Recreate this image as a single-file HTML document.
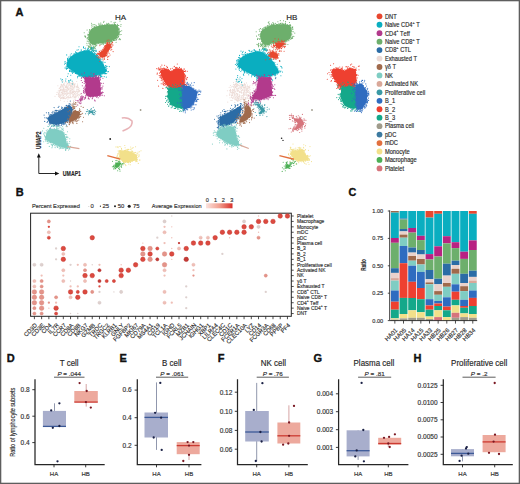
<!DOCTYPE html>
<html><head><meta charset="utf-8"><style>
html,body{margin:0;padding:0;background:#fff;}
svg{display:block;}
text{font-family:"Liberation Sans", sans-serif;stroke:#333;stroke-width:0.16px;}
</style></head><body>
<svg width="520" height="484" viewBox="0 0 520 484">
<rect width="520" height="484" fill="#fff"/>
<rect x="0.65" y="0.65" width="518.7" height="482.7" fill="none" stroke="#5e5e5e" stroke-width="1.3"/>
<text x="15.5" y="15.7" font-size="11" font-weight="bold" fill="#111" style="stroke:#111;stroke-width:0.35px">A</text>
<path d="M93.7,27.3 L89.4,31.3 L88.2,36.5 L88.7,40.5 L90.4,43.5 L93.6,44.8 L97.6,43.5 L97.7,43.5 L97.7,43.5 L103.1,42.9 L108.5,42.2 L112.4,40.8 L116.7,38.5 L118.4,35.1 L118.8,29.8 L117.8,25.9 L115.4,24.6 L108.5,24.6 L100.4,25.3 Z" fill="#6daf6c"/>
<path d="M104.0,21.3h0M111.1,21.7h0M120.0,21.1h0M103.6,22.2h0M114.1,22.4h0M115.6,22.2h0M91.6,23.2h0M98.9,23.3h0M100.8,23.1h0M106.8,23.3h0M108.7,23.4h0M114.3,23.3h0M93.1,24.5h0M94.8,24.5h0M98.7,24.8h0M100.4,24.8h0M102.0,24.2h0M104.7,24.7h0M106.3,24.6h0M107.4,24.4h0M107.6,24.4h0M108.8,24.1h0M109.8,24.7h0M111.2,24.7h0M112.8,24.3h0M114.4,24.5h0M114.9,24.2h0M115.6,24.7h0M117.4,24.2h0M121.0,24.6h0M91.7,25.1h0M96.0,25.3h0M99.3,25.1h0M99.8,25.3h0M102.3,25.0h0M115.7,25.2h0M117.2,25.1h0M118.0,25.5h0M118.8,25.5h0M93.0,26.1h0M94.7,26.3h0M96.4,26.1h0M120.8,26.2h0M91.8,27.0h0M94.8,27.0h0M118.0,27.2h0M92.3,28.8h0M92.7,28.6h0M118.2,28.8h0M119.1,28.6h0M89.6,29.5h0M91.2,29.6h0M91.6,29.4h0M118.4,29.5h0M119.2,29.3h0M87.1,30.0h0M89.7,30.5h0M119.2,30.2h0M121.7,30.7h0M118.9,31.6h0M120.2,31.4h0M84.2,32.8h0M89.0,32.0h0M118.4,32.7h0M118.9,32.1h0M119.6,32.1h0M118.4,33.4h0M119.3,33.3h0M87.8,34.3h0M88.6,34.6h0M118.3,34.4h0M119.1,34.7h0M119.9,34.8h0M121.1,34.5h0M85.0,35.8h0M88.0,35.6h0M118.4,35.0h0M84.7,36.1h0M85.6,36.6h0M118.4,36.7h0M118.6,36.2h0M85.4,37.3h0M87.2,37.8h0M88.1,37.6h0M117.4,37.8h0M118.1,37.3h0M87.1,38.8h0M117.0,38.2h0M119.4,38.8h0M119.8,38.8h0M88.2,39.1h0M88.6,39.5h0M115.8,39.7h0M116.6,39.6h0M119.0,39.6h0M120.3,39.6h0M113.4,40.4h0M114.0,40.4h0M114.7,40.1h0M115.9,40.2h0M87.2,41.1h0M88.3,41.3h0M110.3,41.7h0M110.9,41.1h0M111.7,41.5h0M112.6,41.8h0M103.8,42.5h0M105.4,42.5h0M107.2,42.0h0M109.1,42.7h0M109.6,42.6h0M111.2,42.3h0M116.1,42.2h0M86.9,43.3h0M88.8,43.1h0M89.8,43.0h0M97.7,43.8h0M98.8,43.4h0M101.1,43.3h0M102.7,43.4h0M103.8,43.6h0M105.1,43.5h0M105.9,43.0h0M107.6,43.5h0M109.0,43.2h0M109.8,43.2h0M90.4,44.6h0M92.3,44.2h0M94.2,44.6h0M95.1,44.4h0M96.2,44.3h0M100.1,44.4h0M101.7,44.2h0M103.2,44.6h0M110.9,44.1h0M93.0,45.1h0M95.6,45.0h0M96.7,45.6h0M107.1,45.7h0M88.8,46.3h0M93.4,46.7h0M95.2,46.7h0M106.3,46.8h0M108.3,46.7h0M94.8,47.1h0M88.4,48.1h0M91.2,48.0h0" stroke="#6daf6c" stroke-width="1.1" stroke-linecap="round" fill="none"/>
<path d="M76.5,52.9 L71.7,55.8 L68.9,58.6 L66.5,63.3 L67.0,67.1 L70.8,69.8 L76.5,73.7 L81.3,76.6 L88.0,77.5 L94.6,77.1 L99.4,74.6 L99.4,74.6 L99.4,74.6 L104.2,73.2 L106.9,71.4 L105.1,67.3 L102.2,62.4 L98.4,57.6 L94.6,53.9 L89.8,51.0 L84.1,50.5 Z" fill="#0aaec0"/>
<path d="M79.0,46.7h0M83.6,46.7h0M83.5,47.4h0M91.3,47.2h0M84.1,48.5h0M85.6,48.1h0M87.9,48.3h0M78.3,49.7h0M87.6,49.6h0M88.3,48.9h0M90.3,49.2h0M77.0,50.1h0M81.2,49.9h0M84.3,50.6h0M85.6,50.1h0M86.5,50.3h0M87.5,50.5h0M88.2,50.7h0M89.1,50.4h0M92.1,50.1h0M94.2,50.6h0M80.1,51.7h0M81.3,51.0h0M83.3,51.2h0M88.0,51.1h0M91.5,51.5h0M93.5,51.4h0M95.7,51.1h0M75.5,51.9h0M76.7,52.6h0M80.1,52.0h0M90.9,51.9h0M92.1,52.2h0M94.6,52.3h0M71.3,53.7h0M74.5,53.7h0M75.9,53.1h0M92.5,53.0h0M93.1,53.2h0M94.3,53.5h0M95.9,53.6h0M73.3,54.1h0M74.6,54.0h0M95.0,54.0h0M96.4,54.7h0M66.7,54.9h0M70.3,55.0h0M96.7,55.4h0M97.5,55.2h0M70.2,56.5h0M97.3,56.0h0M98.3,56.3h0M68.7,57.0h0M70.3,57.7h0M98.2,57.6h0M67.6,58.4h0M99.3,57.9h0M67.7,59.3h0M68.4,59.0h0M99.1,59.1h0M100.0,59.5h0M102.0,59.1h0M67.5,60.0h0M68.0,60.2h0M100.9,60.1h0M65.1,61.6h0M67.7,60.9h0M101.4,61.7h0M102.2,61.7h0M64.9,62.0h0M67.1,62.6h0M102.1,62.7h0M103.2,62.0h0M105.0,62.4h0M65.5,63.2h0M103.0,63.3h0M64.5,64.1h0M103.1,64.4h0M66.7,65.0h0M103.6,65.4h0M105.7,65.5h0M66.2,66.6h0M105.3,66.0h0M106.6,66.2h0M107.0,66.4h0M109.3,66.6h0M67.0,67.3h0M105.1,67.3h0M106.0,67.5h0M65.1,67.9h0M66.3,68.6h0M67.2,68.5h0M68.0,68.3h0M69.7,68.7h0M106.9,68.6h0M66.4,69.3h0M71.1,69.6h0M106.5,69.7h0M69.6,70.4h0M70.1,70.3h0M71.4,70.3h0M72.4,70.7h0M106.4,70.6h0M69.5,71.4h0M70.6,71.3h0M71.6,71.6h0M72.7,71.6h0M73.9,71.5h0M107.7,71.7h0M108.4,71.6h0M72.2,72.6h0M73.5,72.3h0M74.9,72.7h0M68.2,73.7h0M72.5,73.3h0M75.5,73.4h0M76.5,73.5h0M102.5,73.5h0M103.7,73.6h0M104.3,73.1h0M105.6,73.4h0M106.7,73.6h0M77.1,74.3h0M99.5,74.3h0M100.0,74.3h0M101.0,74.6h0M102.1,74.1h0M105.0,73.9h0M78.6,75.1h0M79.5,75.6h0M98.7,75.7h0M99.4,74.9h0M100.4,75.4h0M67.5,76.3h0M77.5,76.2h0M79.0,76.4h0M80.7,76.1h0M82.4,76.5h0M96.6,75.9h0M100.6,76.2h0M101.4,76.1h0M102.0,76.2h0M104.2,76.6h0M77.5,77.7h0M81.5,77.2h0M83.5,77.1h0M84.3,77.6h0M85.6,77.5h0M86.4,77.6h0M88.7,77.5h0M91.9,77.0h0M93.4,77.1h0M95.6,77.4h0M96.1,77.4h0M98.6,76.9h0M101.0,77.0h0M106.3,77.1h0M85.0,78.6h0M86.3,78.4h0M87.7,78.2h0M88.2,78.4h0M91.6,78.6h0M93.2,77.9h0M85.6,79.6h0M87.6,79.3h0M89.6,80.4h0M97.1,81.7h0" stroke="#0aaec0" stroke-width="1.1" stroke-linecap="round" fill="none"/>
<path d="M107.8,43.2 L106.0,44.6 L104.8,47.4 L104.8,47.4 L104.8,47.4 L104.8,47.4 L102.7,50.1 L102.6,50.1 L102.6,50.2 L100.2,52.1 L99.0,54.0 L99.4,56.4 L101.5,57.6 L104.5,57.3 L106.4,55.4 L107.3,52.6 L107.3,52.6 L107.3,52.6 L107.3,52.6 L109.1,49.9 L110.8,47.3 L110.4,44.4 Z" fill="#e8472f"/>
<path d="M107.2,40.2h0M108.9,40.0h0M106.8,42.0h0M107.6,42.2h0M109.6,42.0h0M112.6,42.4h0M107.1,43.3h0M108.2,42.6h0M111.8,43.4h0M106.7,43.6h0M107.5,43.7h0M109.6,43.8h0M110.5,44.2h0M105.6,45.3h0M110.1,44.7h0M110.6,45.3h0M111.9,44.6h0M113.0,45.0h0M99.9,45.6h0M104.8,45.7h0M105.4,46.1h0M110.7,46.4h0M112.0,46.1h0M104.2,47.2h0M104.7,46.6h0M110.8,47.2h0M111.6,47.3h0M103.9,47.7h0M110.7,48.0h0M102.6,49.2h0M104.1,48.6h0M109.4,49.1h0M111.8,49.2h0M101.1,50.3h0M108.6,50.3h0M110.9,50.1h0M99.2,51.2h0M101.9,51.2h0M99.6,51.8h0M107.8,52.2h0M108.5,51.8h0M113.1,51.6h0M98.0,53.1h0M99.1,53.3h0M99.9,53.0h0M109.1,53.2h0M97.2,54.2h0M97.7,53.6h0M98.7,53.7h0M107.2,54.1h0M107.4,53.8h0M96.7,54.6h0M98.5,54.8h0M110.0,55.0h0M104.9,56.4h0M106.0,55.6h0M106.8,55.6h0M108.0,56.3h0M108.8,56.3h0M97.0,56.9h0M98.4,56.7h0M100.5,57.0h0M102.2,57.2h0M104.9,56.6h0M107.7,57.2h0M98.7,58.0h0M99.4,57.8h0M103.0,58.0h0M104.4,58.1h0M100.5,58.8h0M104.5,59.3h0M107.7,59.4h0M103.1,59.9h0M99.7,61.3h0" stroke="#e8472f" stroke-width="1.1" stroke-linecap="round" fill="none"/>
<path d="M85.0,77.7 L84.5,79.8 L85.9,84.5 L85.9,84.6 L85.9,84.6 L85.9,84.6 L85.9,84.6 L85.0,90.3 L85.9,95.1 L89.6,96.9 L95.3,96.4 L100.1,95.4 L100.9,93.2 L100.4,83.6 L99.0,77.1 Z" fill="#b23a8c"/>
<path d="M84.4,72.9h0M91.1,73.0h0M81.9,74.0h0M93.3,73.8h0M94.3,73.8h0M93.7,74.7h0M88.7,76.0h0M91.1,75.7h0M94.2,76.0h0M95.5,75.6h0M96.4,76.1h0M96.9,76.1h0M98.7,76.1h0M99.2,75.5h0M83.4,77.1h0M85.5,76.6h0M87.6,77.2h0M89.7,76.5h0M90.0,77.2h0M92.3,77.2h0M93.5,76.7h0M95.5,76.9h0M98.3,77.2h0M99.7,77.2h0M81.4,78.3h0M83.0,77.5h0M84.0,77.9h0M85.3,77.5h0M86.1,77.5h0M87.0,77.8h0M88.3,77.6h0M89.6,77.7h0M90.7,77.5h0M92.7,77.6h0M100.5,77.8h0M102.9,78.3h0M84.5,78.6h0M84.9,78.9h0M99.7,78.7h0M100.3,79.3h0M100.3,80.0h0M81.3,80.5h0M84.3,81.1h0M99.5,80.9h0M85.0,81.9h0M82.4,82.5h0M85.5,82.7h0M100.2,82.7h0M101.4,83.3h0M103.3,83.2h0M84.2,83.5h0M100.1,83.8h0M85.6,84.8h0M86.0,84.9h0M100.7,85.1h0M82.3,85.8h0M85.4,85.7h0M102.9,86.1h0M84.3,87.1h0M86.0,86.6h0M83.7,88.3h0M100.4,88.1h0M101.5,87.8h0M102.2,87.7h0M84.7,89.1h0M85.5,88.9h0M100.5,88.8h0M101.0,89.0h0M102.1,89.0h0M83.7,90.3h0M85.0,89.7h0M100.4,89.8h0M83.4,91.1h0M85.2,90.8h0M84.3,91.8h0M85.3,92.1h0M101.2,92.2h0M102.5,92.0h0M83.6,92.5h0M84.2,93.2h0M100.7,93.3h0M101.7,92.8h0M103.1,92.5h0M81.2,93.5h0M100.2,94.1h0M101.1,93.5h0M102.0,93.7h0M99.1,95.3h0M100.2,94.5h0M101.0,95.0h0M102.3,95.2h0M85.6,95.9h0M86.0,95.8h0M87.2,95.7h0M95.3,96.3h0M97.0,96.0h0M98.2,95.5h0M99.5,96.1h0M100.6,95.8h0M104.3,95.7h0M83.2,96.6h0M85.3,97.2h0M88.3,96.7h0M90.7,96.9h0M92.6,96.7h0M93.5,96.6h0M96.5,97.1h0M97.3,96.6h0M85.5,98.1h0M88.6,98.0h0M92.4,98.0h0M98.2,97.8h0M88.2,98.7h0M89.3,99.0h0M92.2,98.8h0M94.6,100.0h0M95.1,100.9h0" stroke="#b23a8c" stroke-width="1.1" stroke-linecap="round" fill="none"/>
<path d="M62.0,81.4h0M63.2,81.0h0M76.7,81.5h0M66.6,81.9h0M72.9,82.2h0M64.0,83.2h0M64.9,82.8h0M67.6,83.4h0M67.9,83.4h0M69.2,83.3h0M70.1,82.8h0M71.5,83.5h0M72.1,83.1h0M73.3,83.1h0M61.5,84.2h0M63.4,84.2h0M63.9,84.4h0M67.1,83.9h0M69.4,84.1h0M70.7,83.9h0M71.0,83.9h0M72.3,83.9h0M73.5,83.9h0M74.3,84.0h0M75.2,83.8h0M77.4,84.1h0M61.0,84.8h0M62.1,85.0h0M63.3,84.7h0M64.3,84.7h0M66.6,85.1h0M68.1,84.8h0M69.3,85.1h0M70.3,85.2h0M72.1,85.0h0M73.6,85.0h0M74.3,84.8h0M74.9,85.0h0M77.3,85.5h0M57.9,85.7h0M60.7,86.2h0M61.2,86.0h0M61.9,85.8h0M63.0,85.9h0M64.4,85.8h0M65.5,86.1h0M66.6,86.1h0M66.9,86.3h0M68.1,85.7h0M70.6,85.9h0M71.6,85.9h0M72.7,86.1h0M74.5,85.9h0M74.9,86.5h0M76.6,86.5h0M77.7,85.9h0M60.5,86.7h0M61.0,87.2h0M62.2,86.7h0M63.4,87.0h0M65.2,87.3h0M66.1,86.9h0M67.6,87.5h0M68.1,86.7h0M70.4,86.8h0M71.0,86.9h0M72.3,86.8h0M73.7,87.2h0M74.1,86.9h0M76.4,86.7h0M77.6,86.8h0M78.4,87.3h0M59.6,88.1h0M60.2,87.7h0M63.0,87.7h0M63.9,88.3h0M65.7,87.7h0M66.6,87.8h0M67.7,88.4h0M68.0,88.2h0M69.2,87.8h0M70.9,88.0h0M72.3,87.8h0M73.7,88.2h0M74.4,87.8h0M76.2,87.8h0M77.6,87.8h0M78.3,87.8h0M59.1,88.7h0M60.5,89.4h0M61.2,89.0h0M62.1,89.5h0M63.2,89.1h0M64.1,89.0h0M65.7,89.5h0M67.0,89.1h0M68.3,89.1h0M69.0,89.1h0M70.1,88.7h0M71.2,88.7h0M72.0,89.1h0M72.9,89.1h0M76.9,89.5h0M78.3,89.4h0M79.3,88.7h0M59.6,90.5h0M60.7,89.9h0M61.0,90.2h0M62.7,90.2h0M63.7,89.8h0M64.4,89.7h0M65.0,90.5h0M66.4,90.1h0M67.7,90.2h0M68.1,89.8h0M68.9,89.8h0M70.2,90.3h0M71.0,90.1h0M72.1,89.8h0M73.2,90.0h0M74.1,90.0h0M76.7,89.9h0M77.3,89.8h0M78.6,90.3h0M79.6,90.5h0M58.3,90.8h0M59.3,91.5h0M60.2,90.7h0M61.2,90.8h0M62.4,91.0h0M63.4,90.7h0M64.3,91.2h0M65.1,91.0h0M66.2,91.1h0M67.4,91.1h0M69.7,91.3h0M70.1,91.3h0M71.1,90.8h0M72.5,91.3h0M73.0,91.2h0M74.6,91.5h0M75.1,91.2h0M76.2,91.2h0M77.7,91.3h0M78.3,91.5h0M79.5,90.9h0M57.1,92.4h0M59.9,92.5h0M61.5,92.4h0M62.7,92.3h0M63.1,91.8h0M64.3,92.1h0M65.3,91.7h0M66.5,91.8h0M67.0,92.4h0M69.1,92.3h0M70.7,92.3h0M71.0,91.7h0M72.7,92.4h0M73.6,91.7h0M75.4,92.5h0M76.4,91.8h0M77.7,92.2h0M78.3,92.0h0M79.0,91.8h0M58.7,93.1h0M58.9,92.9h0M59.9,93.0h0M62.0,93.2h0M62.9,92.9h0M64.2,93.2h0M65.4,93.2h0M67.4,93.1h0M68.3,93.3h0M69.3,93.3h0M70.4,93.0h0M71.4,93.1h0M72.2,92.9h0M73.6,92.8h0M74.3,93.2h0M75.2,92.7h0M77.4,93.2h0M80.3,93.5h0M56.7,94.5h0M58.2,94.0h0M60.1,94.4h0M62.4,94.0h0M63.1,93.7h0M64.1,94.4h0M65.3,94.1h0M66.5,93.8h0M67.0,94.4h0M67.9,93.8h0M70.2,94.0h0M72.1,93.8h0M73.5,94.5h0M74.5,94.1h0M75.1,94.0h0M76.6,93.7h0M78.4,94.2h0M79.9,94.4h0M80.9,94.2h0M58.4,94.9h0M59.3,95.0h0M60.6,95.5h0M61.6,94.9h0M62.1,95.1h0M63.5,95.5h0M64.1,94.7h0M66.3,95.3h0M69.0,95.3h0M70.1,94.8h0M72.7,94.8h0M73.3,95.0h0M75.7,95.1h0M75.9,95.0h0M77.7,94.7h0M77.9,95.5h0M79.5,95.2h0M55.0,96.3h0M58.7,96.4h0M59.5,96.0h0M60.3,96.5h0M62.9,96.3h0M65.0,96.5h0M66.7,95.7h0M68.1,96.5h0M70.5,96.1h0M72.6,96.3h0M73.0,96.4h0M73.9,95.7h0M75.0,96.3h0M77.0,95.9h0M59.4,97.5h0M60.2,96.8h0M61.1,97.2h0M61.9,97.2h0M63.1,97.2h0M64.0,97.3h0M66.7,97.5h0M67.4,97.1h0M68.7,97.5h0M69.0,97.1h0M70.6,97.5h0M70.9,97.1h0M74.6,97.1h0M75.5,97.0h0M76.2,96.9h0M78.5,97.1h0M60.6,98.3h0M61.5,98.3h0M62.7,97.9h0M63.3,98.1h0M63.9,98.4h0M64.9,98.1h0M66.2,98.3h0M68.4,97.8h0M69.1,97.7h0M70.0,97.8h0M72.0,97.7h0M73.9,97.8h0M75.2,97.9h0M60.6,98.8h0M63.0,98.7h0M65.3,98.8h0M67.9,99.1h0M75.1,99.4h0M60.6,100.3h0M73.6,100.2h0M64.2,101.3h0M67.4,101.2h0M73.9,101.5h0M70.4,101.8h0" stroke="#ecdad5" stroke-width="1.1" stroke-linecap="round" fill="none"/>
<path d="M69.6,105.2 L65.7,107.2 L57.6,111.9 L57.6,111.9 L49.5,116.0 L47.6,118.5 L49.5,123.6 L56.2,125.0 L64.1,123.0 L69.4,119.7 L72.1,114.3 L72.8,107.8 Z" fill="#2b6ca6"/>
<path d="M70.3,101.0h0M69.2,103.6h0M70.4,104.1h0M66.2,105.4h0M68.3,105.3h0M69.1,105.0h0M70.1,105.0h0M73.1,104.6h0M59.0,106.3h0M66.8,105.9h0M67.3,106.1h0M69.0,105.6h0M58.2,107.4h0M61.7,107.1h0M65.1,107.1h0M54.1,107.6h0M61.8,108.4h0M62.6,107.7h0M64.4,107.8h0M65.4,107.7h0M72.2,109.4h0M73.1,109.2h0M55.7,110.2h0M56.5,110.2h0M59.0,110.3h0M60.2,109.8h0M53.0,111.3h0M55.0,110.9h0M56.3,110.9h0M57.7,110.6h0M59.2,111.0h0M52.1,112.4h0M54.1,112.3h0M56.3,112.2h0M58.7,111.6h0M73.3,112.1h0M75.2,111.9h0M46.4,112.7h0M48.7,112.6h0M52.2,112.8h0M54.6,112.8h0M55.5,112.8h0M72.7,113.4h0M74.2,113.4h0M75.2,113.3h0M48.7,114.0h0M49.0,114.0h0M51.0,114.2h0M52.8,114.0h0M54.2,113.6h0M71.8,114.2h0M72.7,114.4h0M44.1,115.1h0M50.2,114.9h0M51.5,114.7h0M71.6,115.4h0M73.0,114.8h0M76.1,114.8h0M49.3,115.7h0M50.2,116.1h0M72.0,115.7h0M73.2,115.7h0M74.0,115.9h0M48.2,117.3h0M49.2,117.1h0M71.6,117.2h0M44.8,117.7h0M46.4,117.9h0M47.7,118.2h0M47.7,118.9h0M70.2,119.4h0M72.5,119.0h0M73.0,119.1h0M68.4,120.1h0M69.8,119.7h0M70.6,120.2h0M71.1,120.2h0M44.7,121.4h0M47.6,121.2h0M48.8,120.6h0M66.7,121.4h0M67.4,120.7h0M68.8,121.2h0M71.0,120.9h0M47.1,122.4h0M65.6,122.0h0M66.0,122.0h0M67.5,122.3h0M49.6,122.8h0M61.3,123.4h0M62.7,123.1h0M63.5,123.1h0M65.2,123.1h0M49.1,124.1h0M50.4,123.9h0M58.8,124.2h0M61.6,123.9h0M62.2,124.2h0M64.1,123.7h0M65.0,123.9h0M53.5,124.7h0M54.6,125.4h0M56.1,124.9h0M57.7,125.3h0M58.6,124.6h0M59.0,125.0h0M61.2,125.4h0M63.7,124.6h0M66.6,125.1h0M51.4,126.3h0M53.4,126.1h0M56.4,126.0h0M58.8,126.1h0M59.1,125.8h0M50.6,128.1h0M54.2,129.1h0" stroke="#2b6ca6" stroke-width="1.1" stroke-linecap="round" fill="none"/>
<path d="M73.7,110.6 L71.8,114.5 L71.8,114.5 L69.1,118.6 L69.1,122.3 L72.2,121.6 L77.6,118.4 L80.2,114.4 L78.9,111.2 Z" fill="#a06a4c"/>
<path d="M76.1,106.5h0M81.1,106.3h0M67.7,107.4h0M73.9,107.3h0M83.2,107.4h0M74.1,108.5h0M74.7,108.3h0M79.5,108.7h0M79.9,109.8h0M69.8,110.6h0M72.9,110.1h0M74.9,110.2h0M75.7,110.3h0M79.3,110.5h0M68.1,111.7h0M70.9,111.8h0M73.6,111.7h0M75.1,111.0h0M77.9,111.5h0M79.9,111.2h0M80.8,111.4h0M72.0,112.7h0M72.9,112.1h0M79.2,112.3h0M79.7,112.5h0M70.9,113.5h0M79.5,113.2h0M82.6,113.2h0M71.1,114.3h0M79.8,114.7h0M80.7,114.4h0M81.7,114.0h0M68.9,115.2h0M70.8,115.7h0M71.7,115.1h0M69.3,116.8h0M78.8,116.6h0M79.8,116.8h0M80.7,116.2h0M77.9,117.5h0M78.5,117.8h0M79.6,117.6h0M83.5,117.2h0M76.3,118.7h0M77.9,118.3h0M78.7,118.0h0M67.6,119.1h0M68.8,119.0h0M75.7,119.1h0M76.6,119.8h0M69.2,120.4h0M73.8,120.6h0M75.1,120.0h0M75.5,120.7h0M77.2,120.6h0M78.8,120.1h0M67.1,121.6h0M72.8,121.3h0M74.1,121.0h0M76.2,121.6h0M77.3,121.0h0M82.6,121.7h0M65.7,122.6h0M67.3,122.2h0M69.2,122.4h0M70.2,122.4h0M72.2,122.7h0M72.9,122.4h0M70.0,123.2h0M73.1,123.6h0M76.9,123.4h0M69.0,124.1h0M69.5,124.6h0M67.0,126.6h0" stroke="#a06a4c" stroke-width="1.1" stroke-linecap="round" fill="none"/>
<path d="M49.6,128.8 L47.0,132.8 L44.9,138.0 L48.2,141.2 L56.3,145.2 L62.9,147.5 L68.2,147.9 L69.3,146.1 L66.9,143.5 L66.8,143.5 L66.8,143.5 L66.8,143.5 L66.8,143.5 L66.8,143.5 L66.8,143.4 L65.4,136.8 L62.8,131.5 L57.5,129.5 Z" fill="#7fcdc3"/>
<path d="M59.4,125.8h0M48.4,126.6h0M57.6,126.6h0M56.6,127.7h0M43.8,128.2h0M49.6,128.5h0M51.0,129.0h0M52.9,129.0h0M54.5,129.0h0M56.6,128.8h0M61.7,128.3h0M47.8,129.9h0M49.8,129.3h0M55.0,129.4h0M56.0,129.8h0M57.1,129.6h0M58.9,129.7h0M61.9,129.9h0M62.6,129.6h0M42.6,130.9h0M46.3,130.2h0M48.8,130.2h0M60.8,130.3h0M63.5,130.7h0M47.1,131.6h0M47.5,132.0h0M48.3,131.4h0M62.3,131.7h0M67.5,131.7h0M44.7,132.3h0M45.8,133.0h0M47.1,132.4h0M63.3,132.6h0M64.4,133.0h0M43.9,133.3h0M46.6,133.3h0M63.7,133.5h0M44.0,134.2h0M46.4,134.5h0M64.9,134.6h0M65.6,134.5h0M66.7,134.7h0M44.5,135.6h0M64.4,135.2h0M44.7,136.2h0M45.7,136.3h0M66.1,136.8h0M66.8,136.7h0M67.7,137.0h0M45.3,137.6h0M66.4,137.6h0M67.9,137.8h0M45.7,139.0h0M65.5,138.3h0M69.8,138.7h0M45.1,139.2h0M46.0,139.9h0M46.8,139.6h0M66.8,139.6h0M45.6,141.0h0M47.3,140.5h0M43.7,141.8h0M47.1,141.6h0M47.7,141.3h0M49.1,141.7h0M66.9,141.9h0M67.6,142.0h0M69.7,141.6h0M48.6,143.0h0M50.1,142.4h0M50.9,142.6h0M47.3,143.2h0M51.1,144.0h0M67.0,143.9h0M67.7,143.5h0M69.1,143.5h0M52.0,144.4h0M53.4,144.4h0M55.0,145.0h0M55.8,144.5h0M68.0,144.8h0M52.0,145.3h0M52.6,145.4h0M54.8,145.6h0M56.1,146.0h0M57.1,145.8h0M57.4,146.0h0M49.3,146.4h0M52.4,146.8h0M57.9,146.3h0M59.0,147.0h0M59.6,146.6h0M60.3,146.7h0M70.6,146.4h0M51.9,147.8h0M55.1,147.6h0M57.4,147.4h0M60.6,147.5h0M61.4,147.9h0M62.6,147.9h0M63.3,147.7h0M64.7,147.4h0M65.8,147.6h0M67.1,147.5h0M67.4,148.0h0M68.8,147.5h0M69.4,147.5h0M59.3,148.8h0M60.4,148.2h0M63.1,148.4h0M65.1,148.6h0M66.1,149.0h0M66.4,148.2h0M67.5,148.5h0M69.0,148.5h0M69.8,148.6h0M65.6,149.9h0M68.5,150.0h0M69.8,149.3h0M65.7,150.4h0" stroke="#7fcdc3" stroke-width="1.1" stroke-linecap="round" fill="none"/>
<path d="M88.7,110.7 L89.0,112.4 L92.9,113.3 L93.5,111.6 Z" fill="#3a9aa6"/>
<path d="M93.3,107.2h0M91.3,108.5h0M87.3,109.6h0M90.9,109.4h0M94.5,109.8h0M89.3,110.6h0M91.2,110.7h0M92.8,110.6h0M93.7,110.7h0M94.8,110.2h0M86.4,111.6h0M87.7,111.5h0M88.1,111.1h0M89.5,111.1h0M90.4,111.0h0M91.8,111.5h0M92.3,111.3h0M95.7,111.5h0M88.7,112.8h0M89.2,112.8h0M90.8,112.8h0M93.6,112.8h0M94.6,112.4h0M85.6,113.8h0M88.2,113.2h0M89.6,113.5h0M92.6,113.5h0M95.1,113.8h0M88.5,114.7h0M92.2,114.0h0M93.4,114.4h0M94.2,114.7h0" stroke="#3a9aa6" stroke-width="1.1" stroke-linecap="round" fill="none"/>
<path d="M119.8,150.0 L119.1,156.9 L122.6,161.9 L129.7,161.9 L137.5,159.9 L136.8,155.0 L131.1,151.5 Z" fill="#f2e08a"/>
<path d="M124.8,145.5h0M116.0,146.9h0M117.7,146.9h0M119.2,146.5h0M120.7,146.7h0M130.7,147.0h0M135.6,146.7h0M118.1,147.6h0M125.1,147.7h0M132.2,148.2h0M133.1,147.6h0M121.5,148.4h0M130.1,149.2h0M131.1,149.1h0M121.7,149.6h0M125.1,150.2h0M126.1,149.9h0M126.9,150.0h0M127.7,149.4h0M128.6,149.4h0M118.2,150.9h0M119.7,150.6h0M124.2,150.5h0M125.1,150.4h0M125.7,150.8h0M127.2,150.7h0M127.5,150.7h0M128.7,151.1h0M131.3,151.0h0M132.2,151.1h0M141.0,150.8h0M119.2,151.5h0M119.5,151.9h0M128.5,151.5h0M132.1,151.7h0M132.9,151.9h0M135.1,152.2h0M138.1,152.0h0M139.6,151.7h0M118.8,152.7h0M134.0,152.5h0M135.5,152.6h0M136.9,153.1h0M117.7,153.7h0M118.9,153.6h0M134.5,154.0h0M137.8,153.9h0M117.5,155.1h0M119.0,154.7h0M136.0,154.5h0M136.8,155.2h0M139.1,154.9h0M117.0,156.0h0M137.0,155.6h0M139.0,156.0h0M116.9,157.1h0M117.9,157.1h0M138.7,156.7h0M117.0,158.2h0M118.7,157.6h0M120.0,157.9h0M137.2,157.5h0M119.3,159.2h0M118.2,160.2h0M120.1,159.5h0M121.3,159.7h0M136.6,159.8h0M137.5,159.7h0M139.3,160.1h0M140.0,160.0h0M132.0,161.2h0M132.5,161.0h0M135.8,160.6h0M136.7,160.9h0M120.2,161.5h0M124.5,162.2h0M126.2,161.9h0M130.6,161.7h0M135.8,161.6h0M137.1,161.6h0M123.6,162.4h0M125.3,162.4h0M127.3,162.4h0M128.1,162.5h0M129.0,162.4h0M130.5,162.5h0M116.6,163.9h0M122.2,164.2h0M124.3,163.7h0M128.8,164.1h0M138.3,163.4h0M125.3,164.6h0M130.3,164.8h0M125.9,165.6h0" stroke="#f2e08a" stroke-width="1.1" stroke-linecap="round" fill="none"/>
<path d="M114.1,167.0 L118.0,167.7 L121.5,163.6 L119.6,162.3 L116.1,163.1 Z" fill="#4caf55"/>
<path d="M115.9,160.5h0M117.0,160.2h0M112.5,161.2h0M118.4,161.5h0M119.7,161.1h0M116.1,162.3h0M117.9,162.2h0M119.2,162.1h0M115.8,163.2h0M120.7,163.1h0M122.6,163.5h0M123.8,163.2h0M115.6,164.1h0M121.6,164.3h0M113.8,165.3h0M114.7,165.0h0M121.2,165.5h0M122.9,164.7h0M113.5,166.4h0M121.1,166.4h0M112.4,166.7h0M114.2,167.5h0M116.7,167.2h0M119.7,167.1h0M121.6,167.2h0M113.9,168.1h0M115.2,168.1h0M116.0,167.7h0M118.7,168.4h0M113.9,169.1h0M115.7,168.8h0M119.0,168.8h0M119.7,169.4h0M117.7,170.8h0M120.0,171.1h0" stroke="#4caf55" stroke-width="1.1" stroke-linecap="round" fill="none"/>
<path d="M160.7,70.1 L161.2,75.9 L165.2,82.9 L170.1,88.3 L180.0,88.3 L184.8,85.9 L184.8,74.1 L181.9,68.7 L176.0,68.2 L171.1,71.2 L171.1,71.2 L171.1,71.2 L171.0,71.2 L171.0,71.2 L171.0,71.2 L171.0,71.2 L171.0,71.2 L170.9,71.2 L170.9,71.2 L170.9,71.2 L166.0,68.7 Z" fill="#ee4030"/>
<path d="M177.3,64.0h0M161.9,65.1h0M164.6,65.3h0M166.7,66.3h0M174.4,66.2h0M160.8,66.9h0M167.5,67.4h0M174.1,66.7h0M176.1,67.3h0M179.5,67.4h0M158.7,67.9h0M163.8,68.1h0M164.9,68.4h0M167.2,67.7h0M172.3,68.3h0M175.5,67.9h0M176.6,68.0h0M177.3,67.7h0M179.4,67.6h0M181.1,68.4h0M156.8,68.6h0M158.2,69.1h0M159.4,69.1h0M160.4,68.7h0M161.8,68.6h0M162.9,68.6h0M164.4,69.3h0M166.4,69.1h0M167.8,69.4h0M168.4,69.4h0M170.6,68.9h0M174.2,69.3h0M178.3,68.7h0M183.9,69.1h0M184.5,69.0h0M159.1,70.1h0M160.1,69.7h0M161.2,69.9h0M162.6,69.9h0M167.8,70.0h0M168.3,70.2h0M169.3,70.4h0M173.4,69.9h0M182.5,70.3h0M160.6,71.4h0M170.9,71.3h0M171.2,70.9h0M183.5,70.8h0M184.4,71.4h0M185.6,70.7h0M187.3,71.2h0M160.4,72.4h0M161.1,71.6h0M170.8,71.6h0M183.5,71.9h0M185.1,71.6h0M157.3,73.1h0M159.6,73.1h0M157.1,74.1h0M161.3,73.9h0M184.7,74.3h0M160.4,75.1h0M161.5,75.3h0M185.3,75.2h0M159.2,75.6h0M160.4,76.1h0M185.7,76.0h0M159.9,77.3h0M161.4,77.1h0M184.8,77.1h0M185.3,76.9h0M160.9,77.7h0M186.3,78.0h0M187.5,77.6h0M161.4,78.6h0M162.3,79.2h0M163.2,78.6h0M185.8,78.8h0M157.6,80.2h0M161.3,80.2h0M163.6,79.6h0M184.9,80.1h0M186.7,79.6h0M162.8,80.8h0M163.3,82.1h0M164.4,81.6h0M185.2,82.0h0M163.2,82.7h0M164.4,83.4h0M165.5,83.0h0M161.2,83.8h0M162.9,83.9h0M163.7,84.3h0M165.5,84.2h0M166.1,84.4h0M185.6,84.4h0M187.8,83.7h0M163.7,85.0h0M164.9,85.2h0M166.4,84.6h0M167.4,85.4h0M184.7,84.6h0M186.5,85.0h0M158.6,86.1h0M167.9,86.1h0M184.8,86.2h0M185.2,86.4h0M186.8,85.9h0M166.4,86.8h0M169.1,87.2h0M182.2,87.4h0M183.8,87.4h0M184.8,86.6h0M162.9,88.4h0M168.9,87.7h0M171.1,88.2h0M172.9,88.2h0M173.1,88.3h0M176.3,88.4h0M178.9,88.2h0M179.8,88.4h0M180.4,87.7h0M181.5,87.9h0M182.7,87.7h0M183.8,87.6h0M171.9,88.9h0M174.4,89.1h0M176.4,89.4h0M177.4,89.2h0M181.6,89.4h0M183.8,88.8h0M184.1,89.0h0M168.7,89.6h0M171.7,89.6h0M173.9,89.6h0M176.9,90.3h0M178.3,89.7h0M181.4,89.7h0M176.3,90.9h0M178.2,90.7h0M181.3,91.0h0M167.9,91.7h0" stroke="#ee4030" stroke-width="1.1" stroke-linecap="round" fill="none"/>
<path d="M168.2,88.2 L167.7,96.0 L170.2,103.9 L176.1,107.8 L184.8,108.4 L184.8,90.1 L180.9,87.7 Z" fill="#14a88a"/>
<path d="M172.6,84.7h0M175.6,84.3h0M180.1,84.3h0M169.1,85.9h0M173.1,85.7h0M177.4,85.4h0M181.8,85.5h0M182.4,85.2h0M168.8,86.8h0M174.5,86.7h0M175.9,86.7h0M185.1,86.2h0M188.4,86.7h0M165.9,87.7h0M166.4,87.5h0M167.6,87.7h0M169.8,87.7h0M170.7,87.6h0M171.2,87.4h0M173.3,87.3h0M177.9,87.2h0M178.9,87.7h0M179.2,87.5h0M180.3,87.5h0M181.6,87.8h0M185.3,87.7h0M167.4,88.4h0M168.3,88.2h0M169.4,88.5h0M170.6,88.3h0M171.5,88.3h0M174.9,88.2h0M175.9,88.2h0M181.7,88.3h0M182.1,88.3h0M183.6,88.9h0M167.9,89.4h0M168.1,89.5h0M182.9,89.2h0M183.1,89.5h0M184.6,89.9h0M185.3,89.5h0M184.1,90.1h0M185.9,90.8h0M167.5,91.3h0M187.7,91.6h0M167.3,92.8h0M184.6,92.3h0M185.6,92.8h0M184.7,93.9h0M186.1,93.4h0M186.1,94.6h0M167.3,95.3h0M185.3,95.2h0M165.6,96.2h0M166.7,96.2h0M167.4,96.4h0M168.1,96.7h0M184.8,96.5h0M185.5,96.2h0M167.6,97.8h0M168.5,97.5h0M185.9,97.3h0M187.5,97.5h0M165.5,98.3h0M168.6,98.6h0M167.3,99.9h0M168.8,99.9h0M166.5,100.9h0M184.5,100.8h0M185.9,100.5h0M186.9,100.1h0M168.2,101.9h0M169.6,101.4h0M184.5,101.3h0M185.3,101.8h0M186.5,101.4h0M165.5,102.5h0M168.3,102.4h0M184.9,102.8h0M185.2,102.8h0M169.7,103.9h0M184.8,103.8h0M185.5,103.4h0M186.9,103.1h0M167.5,104.2h0M170.3,104.5h0M171.3,104.2h0M185.7,104.3h0M186.2,104.3h0M188.3,104.9h0M168.9,105.8h0M171.2,105.1h0M172.6,105.8h0M168.6,106.3h0M172.2,106.9h0M184.5,106.5h0M185.3,106.5h0M186.9,106.7h0M171.2,107.7h0M175.9,107.8h0M181.6,107.8h0M184.4,107.9h0M185.5,107.4h0M174.3,108.4h0M175.4,108.4h0M177.6,108.9h0M178.9,108.8h0M180.6,108.1h0M181.4,108.5h0M182.8,108.3h0M183.7,108.6h0M184.8,108.8h0M185.1,108.1h0M178.9,109.1h0M182.7,109.9h0M184.8,109.7h0M180.3,110.8h0M183.4,110.4h0M179.7,111.5h0M181.7,111.3h0" stroke="#14a88a" stroke-width="1.1" stroke-linecap="round" fill="none"/>
<path d="M183.2,85.2 L182.2,92.0 L182.2,104.0 L184.1,109.4 L189.9,107.8 L195.8,99.9 L197.5,92.1 L189.9,86.2 Z" fill="#2f6cc0"/>
<path d="M182.6,81.0h0M187.2,82.2h0M187.3,82.8h0M191.6,83.0h0M194.2,82.6h0M180.6,83.9h0M186.7,83.7h0M187.9,84.2h0M188.9,84.1h0M183.9,85.1h0M184.7,84.7h0M189.0,85.3h0M190.6,84.9h0M193.1,85.3h0M181.1,86.3h0M182.8,86.0h0M189.1,86.2h0M191.0,86.0h0M179.2,87.3h0M182.0,87.0h0M183.0,86.8h0M191.3,87.3h0M178.8,87.6h0M182.0,88.4h0M183.1,88.1h0M192.9,88.1h0M181.6,89.0h0M193.1,89.0h0M193.9,88.9h0M179.0,90.2h0M181.2,90.4h0M182.2,90.3h0M195.1,90.2h0M195.9,89.7h0M199.0,90.1h0M181.0,90.8h0M195.4,90.7h0M196.2,91.3h0M196.6,91.0h0M197.8,91.0h0M199.3,91.4h0M200.8,91.1h0M182.0,92.1h0M197.3,92.3h0M198.1,91.9h0M200.7,92.1h0M182.2,93.1h0M179.7,94.3h0M182.2,93.6h0M197.0,93.7h0M198.8,94.3h0M199.9,94.4h0M196.6,94.8h0M198.4,94.7h0M182.1,95.7h0M196.8,95.8h0M180.9,97.0h0M181.6,97.3h0M196.4,97.0h0M179.9,98.3h0M180.9,97.9h0M181.8,98.1h0M197.1,97.8h0M180.3,98.7h0M182.1,99.0h0M195.9,98.8h0M197.4,99.4h0M198.6,99.2h0M182.1,99.9h0M195.9,99.8h0M196.7,100.4h0M195.9,101.4h0M180.3,102.4h0M182.3,101.9h0M193.7,102.3h0M194.7,101.7h0M196.9,101.6h0M177.6,102.9h0M180.0,103.2h0M181.1,102.6h0M181.6,103.1h0M193.4,103.2h0M193.9,103.1h0M193.2,103.7h0M181.3,104.7h0M181.6,104.8h0M192.4,104.6h0M192.8,105.1h0M193.6,104.6h0M195.0,104.7h0M196.1,104.8h0M181.1,105.9h0M182.2,105.6h0M183.3,106.1h0M191.0,106.0h0M191.6,105.8h0M182.6,106.9h0M190.8,106.9h0M192.0,107.1h0M183.0,107.8h0M183.8,107.8h0M189.2,107.6h0M190.8,108.0h0M194.1,107.6h0M186.3,108.9h0M186.8,109.2h0M194.2,108.8h0M183.3,109.6h0M184.0,110.2h0M184.6,109.6h0M187.2,109.8h0M187.7,109.8h0M191.2,110.0h0M193.1,109.6h0M185.3,110.9h0M183.3,111.8h0M185.3,112.8h0" stroke="#2f6cc0" stroke-width="1.1" stroke-linecap="round" fill="none"/>
<path d="M261.2,31.3 L260.1,35.2 L260.5,39.1 L262.5,43.2 L265.7,45.1 L270.3,43.7 L270.4,43.7 L270.4,43.7 L275.8,43.1 L281.1,42.4 L286.4,41.0 L290.4,38.5 L291.4,33.8 L291.7,28.5 L289.8,25.3 L283.8,23.9 L277.1,24.4 L270.5,25.3 L265.1,28.0 Z" fill="#6daf6c"/>
<path d="M280.3,20.6h0M283.5,20.7h0M269.0,21.7h0M277.9,21.8h0M285.6,21.6h0M268.3,22.6h0M272.9,22.6h0M282.0,23.1h0M289.5,22.5h0M269.0,23.8h0M269.6,24.1h0M271.5,24.0h0M273.3,24.1h0M273.9,23.3h0M275.5,23.3h0M278.8,23.9h0M280.0,23.7h0M280.7,23.4h0M282.3,23.4h0M283.7,23.8h0M285.3,23.4h0M285.5,23.3h0M271.2,25.1h0M272.3,24.9h0M273.0,25.1h0M274.1,24.5h0M276.3,24.5h0M276.7,24.3h0M277.5,24.6h0M279.2,24.6h0M285.5,24.6h0M287.2,24.8h0M287.7,24.8h0M289.9,24.6h0M290.6,25.1h0M267.3,25.9h0M268.1,25.6h0M269.9,25.8h0M289.0,25.5h0M290.1,25.7h0M290.7,25.3h0M265.2,26.9h0M266.9,26.3h0M268.1,26.8h0M291.0,27.0h0M292.7,26.9h0M264.0,27.6h0M265.2,27.7h0M265.6,27.6h0M292.1,27.8h0M292.5,27.4h0M260.5,28.6h0M262.6,28.7h0M263.7,28.7h0M292.8,28.9h0M259.2,29.3h0M262.0,29.3h0M263.2,29.9h0M292.8,29.5h0M259.6,31.1h0M262.6,30.4h0M291.6,30.8h0M256.2,31.7h0M261.2,31.4h0M292.0,31.6h0M293.3,31.8h0M261.0,33.1h0M294.8,33.1h0M260.3,34.1h0M291.7,33.7h0M258.5,34.9h0M260.0,34.4h0M290.9,35.0h0M291.9,34.7h0M256.5,36.1h0M260.0,36.0h0M291.0,35.3h0M260.3,36.6h0M290.7,37.1h0M292.3,36.5h0M293.8,36.4h0M291.2,37.3h0M292.6,37.3h0M257.8,38.3h0M259.1,38.8h0M260.1,38.7h0M289.5,38.7h0M291.2,38.3h0M291.8,38.6h0M292.6,38.3h0M257.5,39.4h0M259.7,39.3h0M287.8,40.1h0M288.8,39.7h0M290.7,39.3h0M285.3,41.0h0M286.1,40.7h0M288.9,40.7h0M261.7,41.4h0M282.3,42.1h0M284.1,41.4h0M284.7,42.0h0M285.6,42.0h0M286.9,41.6h0M260.7,43.0h0M281.5,43.0h0M258.8,43.3h0M262.3,43.7h0M263.2,43.4h0M267.8,44.1h0M268.8,43.8h0M269.8,44.1h0M270.5,43.6h0M273.0,43.3h0M273.5,43.3h0M274.7,43.8h0M275.7,43.3h0M278.0,43.4h0M279.2,43.5h0M279.5,43.7h0M283.6,43.4h0M257.7,44.7h0M260.9,44.6h0M262.2,44.8h0M262.8,44.9h0M264.2,44.5h0M265.2,44.5h0M266.2,45.1h0M267.1,44.3h0M267.6,44.9h0M268.5,44.6h0M269.7,44.7h0M271.6,44.3h0M276.2,45.1h0M278.7,44.6h0M284.5,44.6h0M285.7,44.6h0M287.9,44.5h0M261.5,45.4h0M265.2,45.9h0M265.6,45.6h0M269.1,45.3h0M276.6,45.8h0M265.5,46.3h0M275.3,47.8h0" stroke="#6daf6c" stroke-width="1.1" stroke-linecap="round" fill="none"/>
<path d="M243.7,55.8 L240.0,58.6 L238.0,63.3 L239.0,67.1 L243.7,70.8 L250.4,73.7 L250.4,73.7 L256.2,76.6 L262.8,77.5 L270.4,76.6 L275.2,74.6 L279.0,72.3 L278.0,69.2 L274.2,63.4 L270.4,58.6 L266.6,54.9 L261.8,52.0 L256.1,51.5 L249.5,52.9 Z" fill="#0aaec0"/>
<path d="M254.1,49.6h0M259.4,49.2h0M249.0,50.4h0M253.0,50.7h0M254.6,50.3h0M259.8,50.0h0M241.0,51.1h0M243.1,51.2h0M249.6,51.1h0M251.1,51.3h0M251.8,51.3h0M255.2,50.9h0M255.5,51.1h0M256.9,51.1h0M257.4,51.5h0M258.8,51.4h0M259.8,51.1h0M242.6,52.5h0M245.4,52.4h0M253.9,52.4h0M255.1,52.1h0M256.0,51.9h0M260.6,52.1h0M262.0,52.1h0M263.1,52.4h0M264.7,52.3h0M271.1,52.6h0M247.4,53.7h0M263.1,53.0h0M263.8,53.4h0M265.2,53.3h0M267.5,53.3h0M242.0,54.1h0M243.1,54.5h0M244.8,54.1h0M245.5,54.4h0M246.9,54.1h0M264.9,53.9h0M266.5,54.6h0M239.5,55.4h0M243.2,55.0h0M267.4,55.0h0M268.7,55.1h0M270.5,55.4h0M272.8,55.5h0M243.0,56.2h0M268.2,56.6h0M268.5,56.5h0M238.6,57.5h0M239.7,57.2h0M268.9,57.1h0M269.9,57.1h0M270.4,57.0h0M239.8,58.4h0M240.7,58.3h0M270.2,58.3h0M270.5,58.3h0M271.7,58.7h0M237.7,59.7h0M238.6,59.2h0M271.6,59.6h0M273.9,59.5h0M236.8,60.4h0M238.4,60.5h0M239.5,60.1h0M271.1,60.0h0M236.9,61.3h0M238.0,61.0h0M238.5,61.6h0M272.0,60.9h0M272.9,61.6h0M279.9,60.9h0M237.7,62.7h0M273.0,61.9h0M273.6,62.6h0M274.9,62.2h0M236.4,63.1h0M238.1,63.6h0M274.1,63.4h0M274.4,63.5h0M235.4,64.5h0M237.4,64.4h0M238.4,64.7h0M275.0,64.6h0M277.2,64.2h0M236.5,65.2h0M237.7,64.9h0M238.5,65.5h0M238.0,66.6h0M238.7,66.4h0M276.9,66.6h0M280.7,66.2h0M281.5,66.7h0M237.9,67.5h0M239.5,67.3h0M277.1,67.7h0M239.1,68.0h0M239.4,68.2h0M277.9,68.7h0M282.0,67.9h0M235.9,69.0h0M239.0,69.0h0M242.2,69.4h0M277.8,69.1h0M239.4,70.2h0M241.7,70.1h0M242.4,70.0h0M243.8,70.6h0M240.8,71.5h0M244.1,71.3h0M244.5,71.4h0M279.1,70.9h0M280.2,71.7h0M280.9,71.0h0M244.5,72.3h0M246.1,72.3h0M247.4,72.7h0M278.7,72.1h0M280.0,72.0h0M282.5,72.0h0M244.1,73.1h0M247.0,73.1h0M248.2,73.0h0M249.9,73.3h0M250.4,73.5h0M278.2,72.9h0M243.4,74.3h0M248.7,74.7h0M251.9,74.7h0M252.5,74.5h0M274.7,74.7h0M275.4,74.5h0M276.9,74.0h0M277.4,73.9h0M237.7,75.6h0M243.7,75.2h0M252.0,75.4h0M253.9,75.2h0M274.0,75.0h0M275.0,75.7h0M275.7,75.0h0M280.9,75.7h0M251.6,76.7h0M254.5,76.4h0M256.0,76.7h0M270.1,76.3h0M271.9,76.0h0M257.2,77.2h0M258.1,77.7h0M258.4,76.9h0M260.2,77.3h0M260.9,77.4h0M263.7,77.1h0M265.1,76.9h0M265.6,77.0h0M267.1,77.0h0M269.1,77.1h0M275.8,77.2h0M256.6,78.0h0M257.7,78.4h0M258.8,78.1h0M261.4,78.5h0M262.7,78.1h0M268.7,78.6h0M275.4,78.6h0M259.5,79.3h0M261.2,78.9h0M268.2,79.2h0M271.9,79.4h0M256.5,79.9h0M257.8,80.5h0M259.2,80.5h0M260.9,80.0h0M262.8,80.5h0M272.6,80.2h0" stroke="#0aaec0" stroke-width="1.1" stroke-linecap="round" fill="none"/>
<path d="M275.7,42.8 L275.2,45.5 L276.7,47.6 L279.0,48.4 L281.7,47.0 L283.6,44.3 L283.3,42.4 L279.0,42.2 Z" fill="#e8472f"/>
<path d="M275.0,38.8h0M278.4,39.1h0M281.8,40.4h0M273.3,41.4h0M278.0,41.4h0M284.3,40.9h0M278.9,42.0h0M279.8,41.8h0M281.4,41.7h0M282.2,41.6h0M282.9,41.6h0M283.6,42.0h0M275.4,42.7h0M275.9,43.3h0M284.0,42.9h0M273.7,43.7h0M283.3,43.7h0M284.1,44.3h0M284.6,43.8h0M285.7,43.9h0M273.6,44.9h0M275.3,45.1h0M283.4,44.7h0M271.3,46.1h0M273.3,45.9h0M274.1,45.8h0M274.8,45.6h0M275.8,45.6h0M282.9,45.6h0M284.1,46.2h0M285.0,46.3h0M273.3,47.2h0M274.4,46.6h0M276.1,47.2h0M276.7,47.2h0M282.2,47.1h0M283.1,46.6h0M285.3,46.6h0M276.7,48.2h0M278.4,47.9h0M279.4,48.3h0M279.9,47.7h0M280.9,48.0h0M284.4,47.6h0M273.7,49.0h0M278.9,49.0h0M281.6,48.6h0M275.6,49.7h0M277.4,49.7h0M279.9,50.2h0M279.2,51.2h0M281.3,51.1h0M284.1,51.3h0" stroke="#e8472f" stroke-width="1.1" stroke-linecap="round" fill="none"/>
<path d="M269.3,52.4 L270.5,56.4 L273.4,58.4 L276.5,58.8 L278.1,57.5 L277.8,54.6 L275.9,52.4 L272.5,51.7 Z" fill="#e8472f"/>
<path d="M272.3,47.2h0M277.1,48.9h0M269.8,49.8h0M267.6,50.1h0M270.1,50.3h0M272.1,50.9h0M272.9,50.7h0M270.1,51.7h0M270.8,51.8h0M272.8,51.8h0M273.7,51.3h0M275.2,51.9h0M276.6,51.2h0M279.9,51.3h0M268.8,52.4h0M276.6,52.8h0M267.8,53.2h0M269.4,53.8h0M277.2,53.9h0M278.8,53.6h0M269.4,54.9h0M269.7,54.6h0M278.9,54.9h0M268.4,55.8h0M268.8,55.1h0M269.6,55.4h0M277.7,55.4h0M269.4,56.4h0M270.4,56.3h0M270.7,56.4h0M270.9,57.4h0M271.7,57.7h0M278.2,57.9h0M270.4,58.6h0M273.9,58.2h0M275.9,58.9h0M277.6,58.2h0M265.6,59.8h0M269.6,59.3h0M273.1,59.5h0M276.0,59.5h0M279.4,60.5h0M279.7,61.5h0" stroke="#e8472f" stroke-width="1.1" stroke-linecap="round" fill="none"/>
<path d="M258.7,77.2 L257.3,83.5 L256.6,90.2 L256.6,90.2 L256.6,90.3 L256.6,90.3 L256.6,90.3 L256.6,90.3 L256.6,90.3 L251.9,95.6 L253.2,98.7 L259.8,100.1 L266.4,98.1 L272.4,95.5 L271.7,86.2 L270.4,76.9 Z" fill="#b23a8c"/>
<path d="M256.6,75.1h0M264.0,74.5h0M264.6,74.8h0M272.5,74.5h0M258.9,75.8h0M261.4,76.0h0M264.5,75.5h0M268.7,75.4h0M269.8,75.9h0M257.8,76.6h0M259.4,76.8h0M262.5,76.7h0M263.6,76.9h0M265.0,77.1h0M270.9,77.1h0M258.8,77.3h0M259.4,77.3h0M261.4,77.3h0M264.9,77.3h0M270.4,78.1h0M275.7,78.0h0M258.8,78.6h0M270.3,78.8h0M271.3,78.4h0M258.0,79.4h0M271.0,79.9h0M271.3,79.4h0M257.6,80.6h0M258.3,80.4h0M253.5,81.6h0M256.6,81.3h0M270.7,81.6h0M271.9,81.6h0M254.0,82.7h0M254.5,82.9h0M255.8,82.4h0M270.9,82.5h0M271.8,82.9h0M253.1,83.6h0M255.9,83.8h0M271.1,83.7h0M256.0,85.0h0M257.3,84.8h0M271.7,84.4h0M272.3,84.7h0M274.8,84.8h0M272.0,85.8h0M272.9,86.0h0M256.9,86.8h0M271.6,87.0h0M273.1,86.4h0M257.1,87.7h0M272.0,87.7h0M272.5,87.9h0M256.0,89.1h0M257.1,88.7h0M272.4,88.5h0M274.0,88.4h0M255.9,89.7h0M257.0,90.0h0M274.8,89.5h0M254.0,90.7h0M254.8,91.1h0M255.8,90.9h0M254.0,92.0h0M254.8,91.4h0M271.9,92.1h0M272.7,91.8h0M252.3,92.6h0M272.3,92.5h0M250.6,94.0h0M252.8,93.8h0M248.7,95.7h0M250.3,96.1h0M271.7,95.7h0M272.8,95.4h0M274.1,95.4h0M275.6,95.4h0M250.8,96.7h0M251.3,97.0h0M250.7,97.8h0M252.0,97.3h0M252.4,97.3h0M269.0,97.3h0M269.3,97.8h0M270.4,97.3h0M273.4,97.8h0M252.1,98.6h0M252.4,98.4h0M262.0,99.1h0M263.9,99.0h0M264.4,98.7h0M266.0,98.9h0M266.3,98.5h0M267.9,98.4h0M253.3,99.4h0M254.8,99.6h0M255.9,99.9h0M256.9,100.1h0M258.0,99.6h0M259.1,99.7h0M260.8,99.9h0M261.3,99.6h0M264.0,99.6h0M268.1,99.6h0M255.1,100.3h0M259.1,100.8h0M259.3,100.4h0M252.6,101.9h0M256.0,101.8h0M260.6,101.9h0M255.7,102.3h0M258.5,102.6h0M248.0,103.3h0" stroke="#b23a8c" stroke-width="1.1" stroke-linecap="round" fill="none"/>
<path d="M237.6,79.2h0M236.9,80.2h0M235.6,81.7h0M237.5,81.8h0M241.6,81.7h0M233.5,82.6h0M236.9,82.9h0M246.4,82.9h0M235.5,83.9h0M236.4,83.7h0M239.3,83.3h0M241.3,83.8h0M244.4,83.3h0M233.6,84.6h0M233.9,84.7h0M235.1,84.4h0M236.1,84.8h0M237.3,84.5h0M237.9,84.4h0M240.4,84.9h0M241.4,84.3h0M241.9,84.7h0M242.8,84.7h0M244.1,84.3h0M245.0,84.4h0M252.3,84.9h0M230.4,85.5h0M234.6,85.3h0M234.9,85.1h0M236.4,85.5h0M237.1,85.8h0M238.0,85.2h0M239.1,85.4h0M243.6,85.4h0M244.2,85.4h0M245.6,85.1h0M247.4,85.1h0M249.9,85.8h0M232.1,86.4h0M233.6,86.9h0M234.2,86.3h0M235.4,86.5h0M236.4,86.3h0M237.2,86.6h0M239.3,86.1h0M240.6,86.7h0M241.6,86.6h0M242.5,86.6h0M243.8,86.6h0M245.3,86.3h0M246.0,86.3h0M247.4,86.5h0M248.5,86.6h0M249.4,86.9h0M229.2,87.2h0M231.0,87.2h0M234.2,87.9h0M235.4,87.4h0M236.0,87.6h0M239.0,87.5h0M240.3,87.6h0M241.6,87.9h0M241.8,87.3h0M243.6,87.4h0M244.6,87.4h0M245.5,87.2h0M246.8,87.8h0M248.0,87.8h0M249.1,87.5h0M249.8,87.6h0M236.5,88.9h0M237.1,88.3h0M238.4,88.5h0M238.8,88.3h0M240.1,88.7h0M241.6,88.5h0M243.3,88.1h0M245.1,88.2h0M246.6,88.9h0M246.9,88.2h0M248.0,88.1h0M249.2,88.1h0M253.3,88.5h0M230.4,89.4h0M232.5,89.6h0M233.2,89.7h0M234.2,89.7h0M234.8,89.1h0M237.4,89.3h0M240.9,89.2h0M242.5,89.9h0M242.9,89.3h0M244.5,89.1h0M245.2,89.3h0M246.5,89.2h0M247.4,89.3h0M247.9,89.1h0M250.0,89.6h0M227.4,90.7h0M229.4,90.7h0M230.1,90.6h0M230.9,90.3h0M232.3,90.8h0M233.6,90.8h0M234.1,90.9h0M235.0,90.7h0M237.0,90.6h0M238.0,90.4h0M238.8,90.1h0M241.3,90.8h0M241.8,90.5h0M243.1,90.1h0M244.4,90.6h0M245.1,90.5h0M246.6,90.4h0M247.3,90.5h0M248.6,90.5h0M230.4,91.1h0M230.8,91.7h0M232.6,91.9h0M234.4,91.2h0M235.5,91.8h0M235.8,91.7h0M237.4,91.2h0M238.2,91.3h0M239.5,91.5h0M239.9,91.9h0M241.1,91.2h0M244.0,91.1h0M244.8,91.6h0M246.4,91.9h0M247.4,91.4h0M249.1,91.3h0M230.1,92.8h0M231.2,92.5h0M232.2,92.2h0M233.1,92.4h0M233.9,92.6h0M234.9,92.8h0M239.5,92.6h0M240.4,92.3h0M241.6,92.4h0M243.1,92.9h0M243.8,92.4h0M245.0,92.3h0M246.1,92.9h0M247.5,92.3h0M247.8,92.3h0M248.9,92.4h0M250.2,92.5h0M251.1,92.4h0M232.0,93.2h0M232.8,93.7h0M234.0,93.7h0M234.9,93.8h0M236.5,93.4h0M237.1,93.6h0M241.4,93.1h0M243.6,93.6h0M243.8,93.7h0M244.9,93.7h0M246.4,93.1h0M249.6,93.6h0M250.5,93.7h0M229.4,94.1h0M231.0,94.7h0M232.6,94.8h0M234.9,94.4h0M236.1,94.8h0M237.5,94.5h0M238.0,94.1h0M239.6,94.8h0M243.4,94.2h0M244.0,94.5h0M245.2,94.9h0M246.4,94.8h0M247.4,94.8h0M248.2,94.8h0M248.9,94.8h0M252.9,94.3h0M226.9,95.7h0M229.6,95.2h0M231.6,95.3h0M232.5,95.3h0M232.8,95.5h0M234.5,95.1h0M235.1,95.8h0M237.2,95.1h0M237.9,95.9h0M239.5,95.8h0M241.0,95.8h0M242.2,95.5h0M243.2,95.3h0M244.2,95.3h0M246.6,95.8h0M247.0,95.3h0M248.0,95.1h0M249.5,95.5h0M249.9,95.8h0M231.6,96.1h0M233.4,96.8h0M234.9,96.3h0M236.4,96.2h0M238.2,96.7h0M239.0,96.5h0M241.8,96.3h0M243.6,96.6h0M247.6,96.8h0M248.6,96.2h0M251.9,96.5h0M230.0,97.8h0M231.6,97.5h0M232.9,97.6h0M234.9,97.3h0M236.0,97.4h0M237.5,97.4h0M238.2,97.2h0M239.8,97.1h0M241.3,97.7h0M242.2,97.3h0M243.6,97.2h0M243.8,97.2h0M245.6,97.6h0M245.8,97.5h0M247.2,97.9h0M249.5,97.3h0M232.5,98.2h0M233.2,98.1h0M234.6,98.8h0M235.4,98.9h0M236.4,98.7h0M237.6,98.5h0M238.4,98.4h0M240.0,98.1h0M241.9,98.2h0M243.0,98.7h0M244.0,98.1h0M245.5,98.3h0M245.9,98.2h0M248.1,98.4h0M249.4,98.7h0M235.0,99.7h0M236.3,99.4h0M237.6,99.9h0M238.3,99.9h0M239.1,99.1h0M240.5,99.5h0M241.4,99.7h0M242.0,99.5h0M243.6,99.4h0M244.5,99.8h0M245.5,99.1h0M245.8,99.3h0M231.0,100.4h0M232.2,100.3h0M236.3,100.2h0M237.2,100.2h0M238.0,100.3h0M238.9,100.2h0M239.9,100.3h0M245.2,100.1h0M237.3,101.1h0M238.1,101.2h0M240.9,101.5h0M247.9,101.2h0M227.8,102.1h0M234.8,102.4h0M243.5,102.1h0M244.5,102.2h0M245.3,103.6h0" stroke="#ecdad5" stroke-width="1.1" stroke-linecap="round" fill="none"/>
<path d="M219.5,117.3 L219.1,121.7 L220.0,125.9 L223.2,126.5 L228.6,124.8 L234.2,122.0 L238.6,117.1 L241.0,110.5 L241.4,105.8 L238.9,106.8 L230.0,111.8 L230.0,111.8 Z" fill="#2b6ca6"/>
<path d="M240.2,103.7h0M240.8,103.6h0M234.9,104.7h0M237.9,104.6h0M241.7,104.1h0M243.9,104.7h0M231.6,105.2h0M235.6,105.2h0M237.3,105.3h0M237.8,105.2h0M240.5,105.4h0M242.3,105.5h0M235.3,106.4h0M239.1,106.9h0M240.1,106.7h0M240.6,106.5h0M243.7,106.7h0M245.1,106.2h0M234.9,107.5h0M237.2,107.8h0M237.5,107.6h0M242.3,107.7h0M243.2,107.1h0M230.6,108.2h0M233.2,108.5h0M237.0,108.2h0M240.9,108.1h0M242.0,108.7h0M243.9,108.1h0M224.0,109.5h0M231.7,109.9h0M232.5,109.2h0M233.9,109.8h0M235.1,109.2h0M241.1,109.3h0M241.6,109.6h0M222.5,110.9h0M227.3,110.7h0M229.1,110.2h0M230.5,110.5h0M231.9,110.5h0M240.7,110.3h0M242.6,110.5h0M224.3,111.4h0M225.2,111.4h0M226.0,111.2h0M230.1,111.8h0M230.7,111.5h0M240.3,111.7h0M220.8,112.7h0M228.0,112.7h0M239.8,112.7h0M240.7,112.1h0M242.6,112.4h0M224.3,113.7h0M224.5,113.2h0M225.5,113.1h0M226.9,113.2h0M227.8,113.1h0M239.8,113.5h0M220.2,114.9h0M222.9,114.8h0M224.8,114.2h0M239.2,114.6h0M240.3,114.8h0M240.9,114.9h0M218.6,115.8h0M222.1,115.1h0M223.0,115.7h0M239.2,115.3h0M239.5,115.8h0M240.5,115.5h0M217.0,116.1h0M220.3,116.6h0M220.5,116.3h0M240.0,116.4h0M240.8,116.2h0M242.1,116.2h0M218.1,117.7h0M219.3,117.5h0M238.1,117.6h0M238.8,117.7h0M240.7,117.7h0M218.5,118.2h0M237.0,118.7h0M238.0,118.6h0M238.6,118.5h0M239.9,118.1h0M243.6,118.8h0M214.5,119.3h0M219.3,119.5h0M236.9,119.4h0M218.2,120.4h0M218.5,120.6h0M236.9,120.2h0M217.0,121.3h0M218.5,121.5h0M235.8,121.8h0M236.7,121.5h0M217.1,122.1h0M218.6,122.4h0M231.8,122.8h0M232.8,122.4h0M233.5,122.8h0M235.0,122.4h0M236.0,122.5h0M218.0,123.4h0M218.8,123.7h0M229.6,123.9h0M230.5,123.7h0M231.7,123.3h0M235.0,123.1h0M218.1,124.8h0M219.0,124.9h0M219.5,124.7h0M229.6,124.5h0M231.2,124.3h0M219.0,125.9h0M226.1,125.5h0M226.9,125.1h0M228.2,125.7h0M231.9,125.3h0M218.5,126.9h0M222.1,126.1h0M223.1,126.9h0M223.9,126.1h0M234.5,126.3h0M217.3,127.4h0M218.1,127.8h0M220.2,127.7h0M221.0,127.8h0M223.6,127.2h0M224.8,127.3h0M227.1,127.3h0M235.2,127.6h0M218.3,128.8h0M223.8,129.4h0" stroke="#2b6ca6" stroke-width="1.1" stroke-linecap="round" fill="none"/>
<path d="M245.7,103.0 L245.1,108.3 L245.1,108.3 L244.0,113.9 L244.0,114.0 L244.0,114.0 L244.0,114.0 L244.0,114.0 L243.9,114.0 L240.1,118.4 L239.5,122.6 L243.2,122.0 L247.6,119.2 L250.9,116.0 L251.4,110.5 L248.6,105.0 Z" fill="#a06a4c"/>
<path d="M244.1,99.9h0M244.3,101.9h0M245.0,102.0h0M244.1,102.7h0M244.7,103.4h0M245.6,103.5h0M247.3,103.9h0M247.3,104.3h0M250.7,105.1h0M251.3,105.0h0M253.1,105.1h0M245.1,105.8h0M245.5,106.6h0M250.0,107.0h0M244.3,107.9h0M245.2,107.8h0M250.0,107.6h0M242.0,108.8h0M244.6,108.6h0M245.1,108.4h0M250.3,108.6h0M252.5,109.7h0M253.3,109.5h0M243.7,110.8h0M244.2,111.0h0M252.0,110.7h0M242.3,111.3h0M244.1,111.9h0M251.0,111.6h0M253.5,111.5h0M251.1,112.7h0M238.3,114.0h0M242.2,113.4h0M243.6,114.1h0M251.2,113.8h0M252.2,113.7h0M243.3,114.3h0M251.9,114.6h0M237.2,116.0h0M242.1,115.7h0M251.9,115.5h0M239.7,116.5h0M241.5,116.9h0M250.5,116.3h0M252.1,116.9h0M238.0,118.0h0M239.1,117.6h0M240.7,117.4h0M241.4,117.3h0M249.4,117.4h0M251.5,117.9h0M252.2,117.7h0M254.2,118.1h0M236.2,118.4h0M238.0,118.7h0M239.1,119.1h0M240.1,119.7h0M247.0,119.4h0M249.2,119.7h0M251.5,119.8h0M236.5,120.5h0M240.1,120.5h0M245.3,120.8h0M246.2,120.8h0M239.6,121.9h0M240.0,121.7h0M241.9,122.0h0M243.2,122.1h0M244.1,121.9h0M246.7,121.7h0M237.2,122.7h0M240.7,122.3h0M244.3,122.6h0M245.2,123.1h0M249.6,122.6h0M237.9,123.4h0M239.5,123.8h0M240.5,124.1h0M240.9,123.7h0M243.3,123.5h0M244.1,123.5h0M239.9,125.3h0M241.4,126.1h0" stroke="#a06a4c" stroke-width="1.1" stroke-linecap="round" fill="none"/>
<path d="M220.5,128.6 L218.8,130.1 L216.7,132.9 L217.2,136.6 L223.3,140.4 L228.8,143.8 L236.0,145.5 L240.1,144.9 L238.6,143.0 L238.6,143.0 L238.6,143.0 L238.6,143.0 L236.9,138.5 L236.9,138.5 L236.9,138.4 L235.8,132.8 L234.1,126.3 L228.7,126.9 Z" fill="#7fcdc3"/>
<path d="M234.1,123.0h0M224.9,124.3h0M230.9,123.8h0M232.8,123.8h0M236.4,124.2h0M223.3,124.9h0M227.5,125.3h0M236.2,125.2h0M221.6,125.7h0M225.4,126.2h0M226.4,126.3h0M227.3,125.7h0M229.6,126.1h0M234.4,126.2h0M220.4,127.2h0M221.4,127.0h0M222.9,127.4h0M223.4,127.3h0M226.8,127.4h0M228.1,126.9h0M229.3,126.9h0M234.7,126.9h0M235.8,126.7h0M219.9,127.9h0M220.7,127.8h0M222.8,128.2h0M223.5,127.8h0M224.2,127.7h0M235.9,128.0h0M237.2,128.2h0M218.9,129.3h0M219.4,128.9h0M220.3,128.7h0M235.1,129.3h0M218.6,129.8h0M235.3,129.7h0M214.3,130.8h0M217.4,130.9h0M218.2,131.1h0M235.5,131.0h0M236.8,131.1h0M214.2,132.3h0M215.3,132.1h0M216.2,132.2h0M217.4,132.0h0M235.4,132.4h0M213.3,133.1h0M217.2,132.8h0M235.6,132.7h0M216.9,133.9h0M235.9,134.2h0M236.1,133.7h0M213.4,135.2h0M215.1,135.0h0M216.5,134.7h0M217.1,135.0h0M236.4,135.2h0M216.2,136.2h0M236.6,135.7h0M237.9,135.7h0M238.6,135.9h0M218.4,137.2h0M236.8,137.1h0M237.1,136.8h0M238.4,136.8h0M239.6,137.2h0M218.9,137.7h0M219.4,137.8h0M237.3,138.3h0M217.2,138.8h0M220.5,138.7h0M222.4,139.4h0M237.9,139.0h0M219.8,140.5h0M222.2,139.9h0M237.8,139.7h0M239.4,140.3h0M223.6,141.2h0M224.1,140.9h0M237.6,140.7h0M238.5,141.4h0M224.9,141.8h0M225.2,141.7h0M226.4,142.1h0M238.7,142.1h0M219.6,142.8h0M222.6,142.7h0M224.5,142.7h0M225.4,142.7h0M226.5,143.5h0M227.3,143.4h0M238.3,142.7h0M212.4,144.1h0M225.2,144.4h0M227.6,144.1h0M229.5,144.0h0M230.7,144.5h0M232.5,144.5h0M240.1,144.2h0M241.2,143.8h0M224.9,145.2h0M227.6,144.8h0M231.4,145.1h0M232.5,145.5h0M233.8,144.9h0M234.4,145.0h0M235.8,145.3h0M236.6,145.3h0M238.6,144.9h0M239.6,145.0h0M241.4,145.4h0M229.8,146.3h0M231.9,145.9h0M232.4,145.7h0M233.5,146.2h0M234.7,145.7h0M235.8,145.8h0M236.6,145.7h0M237.1,145.9h0M238.2,145.7h0M241.9,146.0h0M231.8,147.0h0M237.6,147.4h0M238.9,148.2h0M226.9,148.9h0M237.4,149.2h0" stroke="#7fcdc3" stroke-width="1.1" stroke-linecap="round" fill="none"/>
<path d="M256.2,103.7 L261.2,110.4 L261.2,110.4 L261.2,110.4 L261.2,110.4 L261.2,110.4 L261.2,110.5 L261.2,110.5 L261.2,110.5 L261.2,110.5 L261.2,110.5 L261.2,110.6 L261.2,110.6 L261.2,110.6 L261.2,110.6 L261.2,110.6 L261.1,110.6 L259.2,112.5 L260.1,114.1 L263.9,111.9 L264.9,110.0 L257.9,103.4 Z" fill="#3a9aa6"/>
<path d="M256.2,100.3h0M259.5,100.8h0M253.9,102.2h0M255.5,101.9h0M256.5,102.6h0M257.6,102.4h0M254.6,103.0h0M256.8,102.9h0M258.6,103.2h0M260.1,102.9h0M253.8,104.3h0M255.2,103.8h0M256.6,104.5h0M259.2,104.2h0M259.5,104.6h0M260.5,103.8h0M264.8,104.6h0M255.1,104.8h0M255.7,104.9h0M257.1,104.9h0M257.6,105.1h0M260.1,105.1h0M262.1,105.1h0M264.7,105.4h0M258.1,106.4h0M261.7,105.9h0M262.6,106.2h0M257.2,107.2h0M258.0,106.8h0M259.1,107.2h0M259.5,107.6h0M262.6,107.1h0M267.2,107.3h0M258.6,108.2h0M263.1,107.9h0M263.4,108.2h0M264.7,107.9h0M253.9,108.8h0M260.0,109.3h0M263.9,108.9h0M269.2,109.1h0M259.0,110.0h0M260.2,109.9h0M264.6,110.6h0M267.2,109.8h0M261.1,111.2h0M264.4,111.2h0M266.0,111.6h0M255.2,112.5h0M259.0,112.0h0M263.8,112.4h0M266.1,111.9h0M259.2,113.2h0M259.9,113.2h0M261.8,113.4h0M264.0,113.5h0M259.4,113.8h0M260.7,113.8h0M256.5,115.5h0M260.0,115.4h0M262.8,115.1h0M266.9,116.6h0" stroke="#3a9aa6" stroke-width="1.1" stroke-linecap="round" fill="none"/>
<path d="M292.2,116.4 L294.1,120.1 L297.6,122.9 L297.6,123.0 L297.7,123.0 L297.7,123.0 L297.7,123.0 L297.7,123.0 L297.7,123.0 L297.7,123.1 L297.7,123.1 L297.7,123.1 L297.7,123.1 L297.7,123.1 L297.7,123.2 L297.7,123.2 L296.2,126.8 L296.2,126.8 L296.2,126.8 L296.2,126.8 L296.1,126.8 L296.1,126.9 L292.8,129.5 L295.3,130.1 L300.3,127.9 L303.1,125.1 L303.1,121.0 L300.3,118.2 L296.0,118.9 L296.0,118.9 L296.0,118.9 L296.0,118.9 L296.0,118.9 L295.9,118.9 L295.9,118.9 L295.9,118.9 L295.9,118.9 Z" fill="#d6747c"/>
<path d="M291.6,114.0h0M290.7,115.2h0M302.4,114.4h0M289.4,115.4h0M291.0,115.6h0M291.4,115.6h0M292.4,115.7h0M293.5,115.6h0M298.3,115.8h0M291.8,117.0h0M293.5,116.9h0M296.3,116.4h0M299.6,117.0h0M301.0,117.2h0M289.8,117.5h0M292.8,117.6h0M296.4,118.0h0M297.5,118.0h0M299.1,118.0h0M292.4,118.4h0M295.7,118.8h0M296.5,119.2h0M299.8,118.4h0M300.6,118.4h0M301.8,119.2h0M304.0,118.9h0M289.5,119.4h0M290.6,119.5h0M302.0,120.1h0M304.8,120.1h0M306.0,120.2h0M292.4,120.9h0M294.1,121.2h0M294.7,120.6h0M303.8,120.7h0M295.4,121.7h0M294.9,122.6h0M295.4,122.4h0M297.4,122.7h0M302.9,122.7h0M303.9,122.4h0M304.3,122.6h0M295.4,124.2h0M303.4,123.4h0M305.8,123.8h0M295.0,125.1h0M297.0,124.5h0M303.6,124.4h0M296.4,125.9h0M302.7,125.8h0M305.0,126.0h0M305.5,125.6h0M293.7,127.0h0M294.5,126.7h0M295.9,126.6h0M301.5,127.0h0M302.5,126.9h0M304.5,126.6h0M293.4,128.1h0M295.0,127.5h0M300.3,127.7h0M302.0,128.0h0M304.9,128.1h0M289.0,128.8h0M290.7,128.4h0M292.5,129.0h0M293.8,128.5h0M298.7,129.0h0M300.8,128.6h0M292.9,130.0h0M294.0,129.8h0M295.9,129.7h0M296.5,129.5h0M298.0,130.0h0M298.9,129.4h0M301.8,129.4h0M292.6,130.9h0M293.5,131.1h0M297.1,130.6h0M301.9,131.1h0M291.3,132.0h0M299.7,132.5h0" stroke="#d6747c" stroke-width="1.1" stroke-linecap="round" fill="none"/>
<path d="M291.8,150.0 L290.4,154.2 L294.0,159.8 L298.9,161.2 L307.5,160.5 L308.8,158.5 L304.5,152.8 L304.5,152.8 L304.5,152.8 L302.4,148.7 L297.6,150.8 L297.6,150.8 L297.5,150.8 L297.5,150.8 L297.5,150.8 L297.5,150.8 L297.5,150.8 Z" fill="#f2e08a"/>
<path d="M293.0,144.0h0M303.8,144.8h0M305.6,145.8h0M310.0,146.6h0M290.3,147.3h0M290.8,147.4h0M298.2,147.5h0M299.6,147.2h0M300.1,147.8h0M303.4,147.2h0M290.6,148.3h0M295.8,148.1h0M299.0,148.7h0M300.2,148.3h0M301.0,148.0h0M303.8,148.0h0M291.0,149.4h0M292.0,149.4h0M293.1,149.3h0M294.1,149.0h0M296.0,149.7h0M297.6,149.5h0M297.9,149.3h0M299.6,149.4h0M299.9,149.3h0M301.0,149.5h0M305.5,149.6h0M289.8,150.0h0M292.2,150.1h0M294.0,150.1h0M295.3,150.4h0M296.2,150.1h0M297.4,150.1h0M298.3,150.3h0M299.0,150.6h0M303.3,150.4h0M303.8,150.3h0M304.8,150.2h0M308.4,150.3h0M290.8,151.3h0M296.9,151.0h0M304.1,151.4h0M290.8,152.7h0M304.6,152.3h0M288.6,153.8h0M290.4,153.1h0M290.9,153.4h0M305.1,153.4h0M288.5,154.4h0M290.4,154.5h0M291.2,154.8h0M305.3,154.2h0M289.1,155.7h0M306.0,155.2h0M307.2,155.8h0M307.8,155.4h0M310.2,155.8h0M290.8,156.6h0M292.0,156.1h0M307.5,156.5h0M309.0,156.4h0M290.5,157.1h0M307.6,157.1h0M307.9,157.1h0M291.1,158.1h0M291.8,158.2h0M293.2,158.6h0M308.5,158.2h0M309.1,158.7h0M293.0,159.3h0M308.5,159.8h0M309.5,159.2h0M294.1,160.0h0M296.5,160.3h0M302.4,160.6h0M305.2,160.6h0M305.9,160.7h0M307.6,160.5h0M308.0,160.1h0M309.2,160.4h0M290.1,161.3h0M293.0,161.0h0M297.2,161.4h0M298.4,161.7h0M300.1,161.4h0M301.6,161.7h0M303.0,161.2h0M303.8,161.1h0M305.5,161.1h0M311.5,161.6h0M298.8,162.7h0M303.6,162.0h0M304.1,162.1h0M308.1,162.3h0M304.8,163.5h0M295.8,164.0h0M306.1,164.1h0M309.0,164.3h0" stroke="#f2e08a" stroke-width="1.1" stroke-linecap="round" fill="none"/>
<path d="M285.4,167.8 L287.4,168.4 L290.1,166.4 L292.4,162.8 L288.9,165.2 L288.9,165.2 L288.9,165.2 L288.9,165.2 L288.8,165.2 L288.8,165.2 L288.8,165.2 L288.8,165.2 L288.8,165.2 L288.7,165.2 L288.7,165.2 L288.7,165.2 L288.7,165.2 L288.7,165.2 L288.7,165.1 L286.7,163.3 Z" fill="#4caf55"/>
<path d="M291.5,159.1h0M291.8,159.3h0M293.1,160.2h0M295.3,161.4h0M283.2,162.3h0M286.3,162.5h0M287.2,161.8h0M290.0,162.1h0M291.0,162.5h0M292.2,162.3h0M294.1,161.8h0M286.1,162.7h0M286.9,162.9h0M290.9,162.9h0M292.3,163.1h0M293.5,163.4h0M294.6,162.8h0M286.5,163.7h0M289.2,164.3h0M290.0,163.7h0M291.1,163.9h0M296.6,163.9h0M285.6,164.9h0M286.6,165.2h0M288.5,165.4h0M288.8,165.4h0M293.9,165.3h0M284.2,166.0h0M286.0,166.1h0M291.3,166.4h0M285.2,167.0h0M289.0,166.9h0M290.0,166.7h0M282.4,167.7h0M285.3,168.2h0M286.3,168.2h0M288.4,167.9h0M289.1,168.3h0M289.9,168.4h0M283.9,168.9h0M282.2,171.4h0M285.3,170.8h0" stroke="#4caf55" stroke-width="1.1" stroke-linecap="round" fill="none"/>
<path d="M331.9,70.1 L332.2,75.9 L340.1,87.8 L348.0,87.8 L354.8,86.8 L356.5,80.0 L355.8,69.2 L350.0,68.1 L344.1,70.7 L344.1,70.7 L344.0,70.7 L344.0,70.7 L344.0,70.7 L344.0,70.7 L344.0,70.7 L343.9,70.7 L343.9,70.7 L338.0,68.2 Z" fill="#ee4030"/>
<path d="M333.6,63.7h0M351.7,64.0h0M330.6,65.2h0M350.6,64.9h0M358.4,66.3h0M359.3,66.0h0M339.8,67.0h0M342.3,67.1h0M345.9,66.8h0M346.3,66.6h0M348.1,66.6h0M352.8,66.5h0M354.0,66.7h0M336.0,67.6h0M336.9,68.2h0M338.0,67.9h0M338.3,68.0h0M341.5,68.3h0M347.3,67.8h0M348.9,68.3h0M349.8,67.7h0M351.0,68.0h0M354.1,67.7h0M356.1,68.0h0M333.7,68.9h0M334.3,68.8h0M336.0,68.5h0M339.9,69.2h0M340.4,69.1h0M342.0,68.9h0M342.5,68.7h0M347.5,68.9h0M349.1,68.6h0M349.8,68.6h0M352.1,68.7h0M352.8,69.0h0M355.4,69.3h0M330.5,70.1h0M332.0,69.6h0M333.1,69.9h0M333.6,69.6h0M334.3,69.5h0M341.0,69.6h0M342.3,69.8h0M343.4,70.3h0M344.9,69.8h0M346.4,70.0h0M355.6,69.9h0M356.5,70.1h0M359.0,69.7h0M332.0,71.0h0M343.0,70.5h0M343.6,70.7h0M331.8,71.6h0M329.0,72.5h0M331.3,72.6h0M332.4,72.6h0M355.7,72.6h0M327.6,73.7h0M356.9,74.2h0M330.0,74.8h0M331.7,74.6h0M355.9,74.8h0M356.7,74.9h0M358.1,75.2h0M332.0,75.8h0M332.3,76.2h0M356.4,75.5h0M331.0,76.9h0M333.7,78.1h0M357.1,77.9h0M327.3,79.3h0M332.7,78.6h0M334.4,78.6h0M334.8,79.6h0M356.7,80.1h0M331.0,81.3h0M331.4,80.6h0M334.5,81.0h0M335.5,81.2h0M356.3,80.5h0M334.4,81.5h0M335.5,81.7h0M336.8,82.3h0M356.7,81.7h0M337.0,82.6h0M356.5,82.8h0M337.0,84.3h0M337.4,83.5h0M337.3,85.2h0M338.7,85.0h0M355.6,85.3h0M337.8,85.7h0M338.8,85.6h0M356.0,86.2h0M338.6,86.6h0M348.7,87.3h0M350.8,87.2h0M352.0,87.0h0M352.3,87.1h0M354.5,86.5h0M356.5,87.1h0M337.7,87.6h0M338.6,87.9h0M339.8,87.9h0M340.6,87.6h0M342.0,88.3h0M342.4,87.5h0M344.9,87.6h0M345.4,87.8h0M347.8,88.1h0M348.3,88.3h0M350.6,88.1h0M352.0,88.3h0M354.6,87.6h0M356.0,87.8h0M336.8,88.5h0M340.0,88.8h0M345.1,89.3h0M345.6,89.1h0M348.7,88.5h0M349.7,89.1h0M350.4,89.1h0M353.4,88.5h0M355.1,88.8h0M355.9,88.7h0M340.8,89.6h0M344.1,89.5h0M345.3,90.3h0M351.4,89.6h0M348.0,91.3h0M345.8,91.7h0" stroke="#ee4030" stroke-width="1.1" stroke-linecap="round" fill="none"/>
<path d="M341.2,87.2 L340.7,98.0 L344.2,105.4 L350.1,108.3 L357.5,108.6 L357.5,90.1 L351.9,86.2 Z" fill="#14a88a"/>
<path d="M347.5,82.1h0M348.4,82.3h0M342.9,82.7h0M340.9,84.1h0M344.5,84.2h0M338.2,84.9h0M348.5,85.0h0M349.3,85.1h0M352.6,85.2h0M341.5,86.0h0M342.4,86.4h0M343.4,85.6h0M345.1,86.1h0M348.4,86.3h0M349.3,86.4h0M350.3,86.2h0M357.6,85.8h0M337.5,86.8h0M342.8,86.9h0M343.5,86.7h0M344.1,87.2h0M346.1,87.1h0M347.5,86.6h0M350.8,86.6h0M352.9,87.0h0M353.3,87.4h0M354.6,87.4h0M355.5,87.0h0M357.8,87.3h0M340.5,88.2h0M341.4,88.2h0M354.3,88.2h0M355.7,87.8h0M359.2,88.0h0M339.4,89.4h0M341.2,88.8h0M355.9,89.4h0M356.9,89.2h0M357.3,89.2h0M357.9,90.0h0M358.9,89.8h0M359.7,90.0h0M360.3,90.1h0M361.2,89.9h0M357.8,90.7h0M361.4,91.0h0M357.8,92.4h0M359.7,91.6h0M360.2,92.0h0M340.2,93.2h0M357.3,92.8h0M338.1,94.3h0M340.6,94.1h0M357.4,94.2h0M361.5,94.3h0M339.1,94.8h0M340.1,94.7h0M357.6,95.3h0M340.4,95.8h0M357.1,96.2h0M339.2,97.2h0M340.4,96.7h0M358.3,96.6h0M336.8,97.6h0M339.6,98.3h0M340.6,99.1h0M357.5,98.6h0M338.6,99.6h0M340.7,100.1h0M341.9,100.4h0M357.2,100.1h0M358.8,99.6h0M340.9,101.4h0M341.8,101.3h0M357.5,101.0h0M358.4,101.1h0M357.6,102.0h0M341.1,103.3h0M343.2,102.8h0M357.8,103.3h0M359.7,103.3h0M361.7,103.0h0M342.2,104.4h0M357.8,103.6h0M358.4,104.3h0M360.6,104.2h0M343.5,105.2h0M357.2,104.8h0M342.9,106.4h0M343.5,105.6h0M357.7,106.4h0M361.5,105.9h0M343.1,107.2h0M344.9,107.0h0M346.2,106.8h0M347.8,106.7h0M357.2,107.4h0M358.1,107.3h0M359.3,107.0h0M344.8,107.9h0M345.3,107.6h0M347.6,108.4h0M348.3,107.7h0M350.7,108.0h0M353.2,108.3h0M357.9,108.4h0M358.3,107.7h0M361.2,108.1h0M352.3,108.7h0M353.6,108.9h0M354.3,108.7h0M356.3,109.3h0M357.2,108.7h0M352.6,109.8h0M355.3,110.2h0M356.1,109.6h0M350.7,110.9h0M351.9,110.9h0M358.9,111.4h0" stroke="#14a88a" stroke-width="1.1" stroke-linecap="round" fill="none"/>
<path d="M355.2,84.7 L355.7,98.0 L357.2,109.8 L361.9,109.3 L366.8,101.9 L367.6,92.1 L361.9,83.5 Z" fill="#2f6cc0"/>
<path d="M362.0,80.4h0M362.6,80.4h0M364.7,80.3h0M359.7,81.7h0M361.4,81.6h0M364.4,81.7h0M356.2,82.0h0M352.1,83.5h0M354.8,83.7h0M356.8,83.7h0M359.4,83.1h0M360.2,83.7h0M362.9,82.9h0M354.0,84.3h0M356.2,84.1h0M356.7,83.9h0M357.6,83.9h0M361.9,84.1h0M365.8,83.9h0M354.6,85.0h0M363.4,85.5h0M353.7,85.9h0M366.4,86.0h0M353.8,87.3h0M355.3,87.5h0M365.4,87.5h0M354.7,88.3h0M365.8,88.7h0M367.7,88.3h0M353.0,89.4h0M354.3,89.2h0M354.8,89.3h0M367.4,89.2h0M353.2,90.3h0M366.7,90.3h0M366.9,91.1h0M368.4,91.3h0M354.3,92.1h0M355.4,92.6h0M355.8,92.7h0M368.8,92.7h0M351.6,93.2h0M355.4,93.0h0M367.1,93.5h0M368.1,93.6h0M368.8,93.7h0M367.8,94.7h0M368.9,94.7h0M355.0,94.9h0M355.9,94.9h0M367.3,95.6h0M368.2,95.0h0M368.8,95.1h0M354.6,96.7h0M367.3,96.0h0M367.7,96.2h0M353.1,98.2h0M356.1,98.3h0M368.4,98.1h0M354.3,99.4h0M355.9,99.0h0M367.2,99.6h0M355.4,100.5h0M355.6,100.7h0M367.3,100.7h0M368.6,100.4h0M352.1,100.9h0M355.6,100.9h0M367.1,101.1h0M356.2,102.4h0M366.4,102.7h0M366.6,102.5h0M367.6,101.9h0M356.0,103.6h0M356.7,103.2h0M367.3,102.9h0M355.3,104.0h0M366.1,104.3h0M355.2,104.9h0M356.3,105.3h0M356.6,105.6h0M365.2,105.1h0M366.7,105.3h0M356.1,106.5h0M356.6,106.1h0M364.4,106.4h0M366.3,106.1h0M363.1,107.1h0M365.7,107.0h0M356.4,108.1h0M362.2,108.4h0M364.4,107.9h0M364.9,107.9h0M351.6,109.1h0M357.0,108.9h0M358.8,109.5h0M360.3,109.3h0M362.8,109.2h0M357.4,110.6h0M357.8,110.1h0M360.0,110.4h0M361.1,110.0h0M362.4,110.7h0M354.4,111.1h0M356.2,111.1h0M356.9,111.5h0M359.7,111.1h0M360.7,111.5h0M361.9,110.9h0M361.4,112.6h0" stroke="#2f6cc0" stroke-width="1.1" stroke-linecap="round" fill="none"/>
<path d="M84.7,99.1h0M78.1,101.7h0M80.0,99.7h0M80.4,98.6h0M79.3,99.1h0M80.7,97.3h0M85.7,97.7h0M82.6,98.9h0M80.7,100.8h0M84.1,97.6h0M81.0,101.0h0M82.1,100.0h0M80.0,103.3h0M81.9,95.9h0M82.3,97.9h0M82.8,99.7h0M80.5,100.1h0M78.8,102.5h0M82.1,96.4h0M76.0,100.5h0M81.7,99.5h0M78.2,100.7h0M77.7,100.7h0M80.6,100.2h0M79.5,100.3h0M81.3,100.2h0M84.2,98.9h0M80.2,99.4h0M77.2,105.1h0M81.0,96.5h0M82.1,98.5h0M77.4,104.7h0M80.3,103.7h0M80.1,101.8h0M82.8,97.4h0M79.3,102.9h0M81.9,97.5h0M81.6,98.8h0M81.8,98.2h0M81.2,103.0h0" stroke="#b23a8c" stroke-width="1.0" stroke-linecap="round" fill="none"/>
<path d="M74.2,102.0h0M76.3,103.6h0M77.4,102.3h0M70.4,103.8h0M76.9,102.7h0M72.9,104.8h0M78.3,101.8h0M78.2,102.3h0M72.4,108.0h0M73.6,100.9h0M73.6,101.7h0M76.0,102.8h0M73.6,101.2h0M71.8,103.9h0M78.6,105.2h0M75.4,103.0h0M76.3,104.3h0M75.6,104.7h0M73.9,106.3h0M77.3,104.6h0M77.4,102.4h0M73.7,108.4h0M72.9,108.0h0M79.5,100.4h0M72.1,104.0h0" stroke="#ecdad5" stroke-width="1.0" stroke-linecap="round" fill="none"/>
<path d="M72.7,106.3h0M73.0,105.6h0M75.8,102.6h0M73.8,108.7h0M74.4,103.8h0M74.2,106.5h0M73.7,106.7h0M75.7,104.3h0M75.0,107.0h0M74.2,104.6h0M74.0,107.7h0M73.6,103.0h0M72.9,103.9h0M75.6,102.8h0M73.8,106.9h0M72.4,107.7h0M71.8,105.1h0M73.2,108.7h0" stroke="#a06a4c" stroke-width="1.0" stroke-linecap="round" fill="none"/>
<path d="M90.9,46.1h0M89.4,44.1h0M93.0,51.0h0M89.7,47.2h0M92.8,48.5h0M92.3,47.6h0M90.5,47.7h0M90.5,49.1h0M95.6,46.1h0M91.6,48.5h0M91.1,48.7h0M91.3,48.7h0M88.9,46.4h0M92.8,49.1h0M93.0,47.9h0M91.2,48.1h0M90.8,48.6h0M95.3,48.6h0M88.9,47.5h0M94.9,50.4h0M95.0,44.8h0M90.9,45.6h0M91.2,49.1h0M94.0,46.3h0M91.0,46.3h0M90.8,47.7h0M92.8,49.9h0M93.3,47.5h0M94.7,48.7h0M89.2,46.2h0M90.9,43.9h0M87.1,45.3h0M88.9,46.0h0M94.4,47.6h0M92.3,48.2h0" stroke="#6daf6c" stroke-width="1.0" stroke-linecap="round" fill="none"/>
<path d="M89.4,50.1h0M96.6,51.2h0M93.8,50.4h0M91.6,48.8h0M93.1,47.2h0M91.3,48.3h0M91.3,51.0h0M92.8,50.2h0M91.6,47.6h0M91.4,49.2h0M96.0,50.9h0M92.8,52.0h0M93.2,49.0h0M93.5,48.7h0M88.5,50.6h0M96.0,50.1h0M92.8,50.3h0M91.0,51.2h0" stroke="#0aaec0" stroke-width="1.0" stroke-linecap="round" fill="none"/>
<path d="M51.6,125.0h0M56.8,126.9h0M57.7,126.8h0M66.1,126.4h0M54.2,126.4h0M57.7,128.5h0M62.7,126.5h0M56.3,126.4h0M56.1,126.4h0M56.1,129.4h0M54.0,124.8h0M53.3,125.8h0M57.9,126.5h0M52.6,125.1h0M59.8,127.8h0M58.7,128.3h0M47.8,126.4h0M60.8,127.2h0M53.1,126.1h0M49.6,125.7h0M53.9,126.7h0M63.2,129.1h0M52.0,126.5h0M52.0,125.3h0M63.0,128.2h0" stroke="#7fcdc3" stroke-width="1.0" stroke-linecap="round" fill="none"/>
<path d="M69.0,82.5h0M69.0,81.4h0M65.9,79.0h0M62.3,82.1h0M72.3,84.0h0M69.0,80.7h0M68.8,80.6h0M65.6,81.0h0M60.8,78.9h0M61.8,80.1h0M70.4,80.1h0M62.4,79.6h0M72.2,81.2h0M70.8,80.0h0M70.8,75.3h0" stroke="#0aaec0" stroke-width="1.0" stroke-linecap="round" fill="none"/>
<path d="M251.1,102.5h0M252.3,102.0h0M252.9,98.4h0M252.9,101.1h0M251.0,104.2h0M253.6,97.8h0M249.1,105.0h0M252.8,97.9h0M252.3,97.6h0M254.7,98.0h0M253.4,99.7h0M253.9,99.0h0M251.2,101.8h0M251.4,103.0h0M253.2,99.9h0M253.0,100.1h0M251.4,105.8h0M254.3,95.7h0M254.2,96.4h0M248.5,102.3h0M253.6,101.9h0M254.0,96.1h0M252.3,99.9h0M248.1,104.2h0M255.0,96.5h0M248.5,103.6h0M253.4,101.4h0M251.4,100.2h0M250.7,98.4h0M251.7,100.7h0M251.4,100.0h0M250.6,99.2h0M250.2,98.2h0M252.6,101.3h0M253.2,100.5h0M251.8,99.4h0M254.1,98.2h0M256.0,96.0h0M253.5,98.3h0M251.5,102.9h0" stroke="#b23a8c" stroke-width="1.0" stroke-linecap="round" fill="none"/>
<path d="M247.1,102.3h0M246.1,106.8h0M244.3,108.5h0M248.4,101.7h0M245.0,105.4h0M244.3,107.4h0M243.7,106.1h0M249.8,103.9h0M247.3,101.6h0M246.4,102.4h0M245.2,105.7h0M246.2,101.3h0M247.3,103.2h0M242.5,104.6h0M246.7,103.8h0M248.0,101.9h0M248.8,101.5h0M243.1,107.7h0M244.6,101.5h0M245.1,103.7h0M245.6,104.5h0M245.6,102.0h0M247.4,103.0h0M247.0,102.9h0M247.9,105.6h0" stroke="#ecdad5" stroke-width="1.0" stroke-linecap="round" fill="none"/>
<path d="M245.5,107.0h0M242.2,108.6h0M246.2,106.0h0M244.7,104.4h0M244.9,107.6h0M244.4,105.2h0M245.9,101.7h0M245.0,107.2h0M244.9,106.0h0M248.4,100.4h0M246.7,105.5h0M244.9,109.0h0M246.0,108.0h0M246.4,103.9h0M244.0,107.3h0M246.7,106.3h0M246.2,109.1h0M244.3,109.1h0" stroke="#a06a4c" stroke-width="1.0" stroke-linecap="round" fill="none"/>
<path d="M262.9,48.1h0M258.4,44.8h0M263.0,46.4h0M262.2,46.4h0M265.9,46.9h0M265.5,50.6h0M263.3,47.6h0M263.1,48.7h0M260.9,44.0h0M264.4,49.6h0M256.9,44.4h0M258.6,43.7h0M264.9,48.1h0M261.1,44.5h0M264.9,45.6h0M262.9,48.7h0M264.8,46.4h0M259.6,49.8h0M268.6,46.9h0M266.0,49.1h0M263.2,45.1h0M264.9,50.0h0M266.9,46.3h0M266.0,49.0h0M262.4,48.2h0M260.4,46.4h0M261.1,45.8h0M264.7,46.5h0M266.0,49.3h0M258.4,45.4h0M258.7,46.4h0M264.2,43.7h0M258.9,45.5h0M263.0,48.3h0M258.5,46.8h0" stroke="#6daf6c" stroke-width="1.0" stroke-linecap="round" fill="none"/>
<path d="M269.2,54.1h0M265.8,48.8h0M264.6,49.2h0M263.2,49.4h0M266.3,50.3h0M262.6,49.0h0M263.0,51.6h0M264.4,48.4h0M263.4,50.7h0M267.7,50.0h0M266.5,51.1h0M265.4,49.8h0M261.4,50.0h0M264.0,49.5h0M268.2,54.5h0M264.6,49.9h0M264.1,49.9h0M266.4,50.3h0" stroke="#0aaec0" stroke-width="1.0" stroke-linecap="round" fill="none"/>
<path d="M227.0,126.2h0M230.4,127.5h0M228.3,125.3h0M226.6,127.2h0M227.1,126.7h0M222.3,126.3h0M227.3,129.4h0M230.3,127.3h0M225.6,129.4h0M232.5,127.5h0M224.6,125.6h0M233.5,128.4h0M225.7,126.1h0M230.8,126.2h0M219.8,125.2h0M230.0,126.4h0M231.7,128.7h0M228.4,126.0h0M227.3,125.9h0M231.3,127.0h0M224.0,128.2h0M228.4,127.9h0M222.4,127.0h0M219.9,126.4h0M230.2,126.3h0" stroke="#7fcdc3" stroke-width="1.0" stroke-linecap="round" fill="none"/>
<path d="M239.0,81.5h0M237.4,77.4h0M239.1,81.2h0M236.2,79.4h0M239.1,79.1h0M242.2,85.2h0M238.9,81.8h0M240.1,77.2h0M240.7,80.1h0M242.0,78.6h0M236.7,79.4h0M238.0,82.3h0M241.8,82.1h0M236.7,81.1h0M241.5,82.4h0" stroke="#0aaec0" stroke-width="1.0" stroke-linecap="round" fill="none"/>
<line x1="67.3" y1="146.6" x2="79.4" y2="148.6" stroke="#d9a899" stroke-width="1.3"/>
<line x1="239.9" y1="145.1" x2="248.8" y2="148.5" stroke="#d9a899" stroke-width="1.3"/>
<line x1="107.3" y1="155.6" x2="120.3" y2="159.2" stroke="#e2703e" stroke-width="1.4"/>
<line x1="279.4" y1="155.6" x2="293.9" y2="159.2" stroke="#e2703e" stroke-width="1.4"/>
<path d="M121.8,118 Q128,117 132,121 Q133,126 127,129 Q124,130.5 122.5,131" fill="none" stroke="#d6747c" stroke-width="1.6" stroke-opacity="0.55"/>
<circle cx="140.6" cy="110" r="0.9" fill="#a09c8c"/>
<circle cx="110.2" cy="139" r="0.9" fill="#222"/>
<circle cx="312" cy="110" r="0.9" fill="#a09c8c"/>
<circle cx="281.6" cy="138.3" r="0.8" fill="#222"/>
<circle cx="283" cy="140.4" r="0.7" fill="#222"/>
<text x="120.5" y="20" font-size="8" text-anchor="middle" fill="#1a1a1a">HA</text>
<text x="291.7" y="20" font-size="8" text-anchor="middle" fill="#1a1a1a">HB</text>
<path d="M38.8,173.5 L38.8,156 M38.8,173.5 L56,173.5" stroke="#111" stroke-width="0.9" fill="none"/>
<path d="M36.9,157.5 L38.8,153.2 L40.7,157.5 Z" fill="#111"/>
<path d="M55,171.6 L59.3,173.5 L55,175.4 Z" fill="#111"/>
<text x="62.8" y="176.2" font-size="7.4" font-weight="bold" textLength="18.2" lengthAdjust="spacingAndGlyphs" fill="#222">UMAP1</text>
<text x="0" y="0" font-size="7.4" font-weight="bold" fill="#222" textLength="17.6" lengthAdjust="spacingAndGlyphs" transform="translate(41.3,149) rotate(-90)">UMAP2</text>
<circle cx="379.5" cy="16.30" r="2.9" fill="#e8472f"/>
<text x="0" y="0" transform="translate(384.9,18.6) scale(0.895,1)" font-size="6.4" fill="#262626">DNT</text>
<circle cx="379.5" cy="24.75" r="2.9" fill="#0aaec0"/>
<text x="0" y="0" transform="translate(384.9,27.05) scale(0.895,1)" font-size="6.4" fill="#262626">Naive CD4<tspan dy="-3.1" font-size="4.2">+</tspan><tspan dy="3.1"> T</tspan></text>
<circle cx="379.5" cy="33.20" r="2.9" fill="#b23a8c"/>
<text x="0" y="0" transform="translate(384.9,35.5) scale(0.895,1)" font-size="6.4" fill="#262626">CD4<tspan dy="-3.1" font-size="4.2">+</tspan><tspan dy="3.1"> T</tspan>eff</text>
<circle cx="379.5" cy="41.65" r="2.9" fill="#6daf6c"/>
<text x="0" y="0" transform="translate(384.9,43.95) scale(0.895,1)" font-size="6.4" fill="#262626">Naive CD8<tspan dy="-3.1" font-size="4.2">+</tspan><tspan dy="3.1"> T</tspan></text>
<circle cx="379.5" cy="50.10" r="2.9" fill="#2b6ca6"/>
<text x="0" y="0" transform="translate(384.9,52.4) scale(0.895,1)" font-size="6.4" fill="#262626">CD8<tspan dy="-3.1" font-size="4.2">+</tspan><tspan dy="3.1"> CTL</tspan></text>
<circle cx="379.5" cy="58.55" r="2.9" fill="#ecdad5"/>
<text x="0" y="0" transform="translate(384.9,60.85) scale(0.895,1)" font-size="6.4" fill="#262626">Exhausted T</text>
<circle cx="379.5" cy="67.00" r="2.9" fill="#a06a4c"/>
<text x="0" y="0" transform="translate(384.9,69.3) scale(0.895,1)" font-size="6.4" fill="#262626">γδ T</text>
<circle cx="379.5" cy="75.45" r="2.9" fill="#7fcdc3"/>
<text x="0" y="0" transform="translate(384.9,77.75) scale(0.895,1)" font-size="6.4" fill="#262626">NK</text>
<circle cx="379.5" cy="83.90" r="2.9" fill="#d9a899"/>
<text x="0" y="0" transform="translate(384.9,86.2) scale(0.895,1)" font-size="6.4" fill="#262626">Activated NK</text>
<circle cx="379.5" cy="92.35" r="2.9" fill="#3a9aa6"/>
<text x="0" y="0" transform="translate(384.9,94.65) scale(0.895,1)" font-size="6.4" fill="#262626">Proliferative cell</text>
<circle cx="379.5" cy="100.80" r="2.9" fill="#2f6cc0"/>
<text x="0" y="0" transform="translate(384.9,103.1) scale(0.895,1)" font-size="6.4" fill="#262626">B_1</text>
<circle cx="379.5" cy="109.25" r="2.9" fill="#ee4030"/>
<text x="0" y="0" transform="translate(384.9,111.55) scale(0.895,1)" font-size="6.4" fill="#262626">B_2</text>
<circle cx="379.5" cy="117.70" r="2.9" fill="#14a88a"/>
<text x="0" y="0" transform="translate(384.9,120.0) scale(0.895,1)" font-size="6.4" fill="#262626">B_3</text>
<circle cx="379.5" cy="126.15" r="2.9" fill="#a09c8c"/>
<text x="0" y="0" transform="translate(384.9,128.45) scale(0.895,1)" font-size="6.4" fill="#262626">Plasma cell</text>
<circle cx="379.5" cy="134.60" r="2.9" fill="#3c7aa0"/>
<text x="0" y="0" transform="translate(384.9,136.9) scale(0.895,1)" font-size="6.4" fill="#262626">pDC</text>
<circle cx="379.5" cy="143.05" r="2.9" fill="#e2703e"/>
<text x="0" y="0" transform="translate(384.9,145.35) scale(0.895,1)" font-size="6.4" fill="#262626">mDC</text>
<circle cx="379.5" cy="151.50" r="2.9" fill="#f2e08a"/>
<text x="0" y="0" transform="translate(384.9,153.8) scale(0.895,1)" font-size="6.4" fill="#262626">Monocyte</text>
<circle cx="379.5" cy="159.95" r="2.9" fill="#4caf55"/>
<text x="0" y="0" transform="translate(384.9,162.25) scale(0.895,1)" font-size="6.4" fill="#262626">Macrophage</text>
<circle cx="379.5" cy="168.40" r="2.9" fill="#d6747c"/>
<text x="0" y="0" transform="translate(384.9,170.7) scale(0.895,1)" font-size="6.4" fill="#262626">Platelet</text>
<text x="15.8" y="195.7" font-size="11" font-weight="bold" fill="#111" style="stroke:#111;stroke-width:0.35px">B</text>
<text x="32" y="207.6" font-size="6.1" textLength="47.9" lengthAdjust="spacingAndGlyphs" fill="#333">Percent Expressed</text>
<circle cx="88.9" cy="206.2" r="0.3" fill="#222"/>
<text x="90.6" y="208.0" font-size="5.9" fill="#333">0</text>
<circle cx="100.4" cy="206.2" r="0.6" fill="#222"/>
<text x="102.4" y="208.0" font-size="5.9" fill="#333">25</text>
<circle cx="115.0" cy="206.2" r="1.0" fill="#222"/>
<text x="117.8" y="208.0" font-size="5.9" fill="#333">50</text>
<circle cx="129.2" cy="206.2" r="1.55" fill="#222"/>
<text x="132.9" y="208.0" font-size="5.9" fill="#333">75</text>
<text x="151.8" y="207.6" font-size="6.1" textLength="49.8" lengthAdjust="spacingAndGlyphs" fill="#333">Average Expression</text>
<defs><linearGradient id="ge" x1="0" x2="1" y1="0" y2="0"><stop offset="0" stop-color="#fbe3de"/><stop offset="0.5" stop-color="#f2a090"/><stop offset="1" stop-color="#d8302a"/></linearGradient><filter id="rough" x="-20%" y="-20%" width="140%" height="140%"><feTurbulence type="fractalNoise" baseFrequency="0.9" numOctaves="2" seed="3" result="n"/><feDisplacementMap in="SourceGraphic" in2="n" scale="2.2" xChannelSelector="R" yChannelSelector="G"/></filter></defs>
<rect x="206" y="203.3" width="26.5" height="5" fill="url(#ge)"/>
<text x="207.2" y="201.8" font-size="5.6" text-anchor="middle" fill="#333">0</text>
<text x="215.5" y="201.8" font-size="5.6" text-anchor="middle" fill="#333">1</text>
<text x="223.3" y="201.8" font-size="5.6" text-anchor="middle" fill="#333">2</text>
<text x="231.9" y="201.8" font-size="5.6" text-anchor="middle" fill="#333">3</text>
<rect x="30.6" y="213.2" width="260.7" height="103.10000000000002" fill="none" stroke="#222" stroke-width="1"/>
<line x1="291.3" y1="216.00" x2="293.7" y2="216.00" stroke="#222" stroke-width="0.8"/>
<text x="0" y="0" transform="translate(297,217.85) scale(0.93,1)" font-size="5.3" fill="#333">Platelet</text>
<line x1="291.3" y1="221.42" x2="293.7" y2="221.42" stroke="#222" stroke-width="0.8"/>
<text x="0" y="0" transform="translate(297,223.27) scale(0.93,1)" font-size="5.3" fill="#333">Macrophage</text>
<line x1="291.3" y1="226.84" x2="293.7" y2="226.84" stroke="#222" stroke-width="0.8"/>
<text x="0" y="0" transform="translate(297,228.69) scale(0.93,1)" font-size="5.3" fill="#333">Monocyte</text>
<line x1="291.3" y1="232.26" x2="293.7" y2="232.26" stroke="#222" stroke-width="0.8"/>
<text x="0" y="0" transform="translate(297,234.11) scale(0.93,1)" font-size="5.3" fill="#333">mDC</text>
<line x1="291.3" y1="237.68" x2="293.7" y2="237.68" stroke="#222" stroke-width="0.8"/>
<text x="0" y="0" transform="translate(297,239.53) scale(0.93,1)" font-size="5.3" fill="#333">pDC</text>
<line x1="291.3" y1="243.10" x2="293.7" y2="243.10" stroke="#222" stroke-width="0.8"/>
<text x="0" y="0" transform="translate(297,244.95) scale(0.93,1)" font-size="5.3" fill="#333">Plasma cell</text>
<line x1="291.3" y1="248.52" x2="293.7" y2="248.52" stroke="#222" stroke-width="0.8"/>
<text x="0" y="0" transform="translate(297,250.37) scale(0.93,1)" font-size="5.3" fill="#333">B_3</text>
<line x1="291.3" y1="253.94" x2="293.7" y2="253.94" stroke="#222" stroke-width="0.8"/>
<text x="0" y="0" transform="translate(297,255.79) scale(0.93,1)" font-size="5.3" fill="#333">B_2</text>
<line x1="291.3" y1="259.36" x2="293.7" y2="259.36" stroke="#222" stroke-width="0.8"/>
<text x="0" y="0" transform="translate(297,261.21) scale(0.93,1)" font-size="5.3" fill="#333">B_1</text>
<line x1="291.3" y1="264.78" x2="293.7" y2="264.78" stroke="#222" stroke-width="0.8"/>
<text x="0" y="0" transform="translate(297,266.63) scale(0.93,1)" font-size="5.3" fill="#333">Proliferative cell</text>
<line x1="291.3" y1="270.20" x2="293.7" y2="270.20" stroke="#222" stroke-width="0.8"/>
<text x="0" y="0" transform="translate(297,272.05) scale(0.93,1)" font-size="5.3" fill="#333">Activated NK</text>
<line x1="291.3" y1="275.62" x2="293.7" y2="275.62" stroke="#222" stroke-width="0.8"/>
<text x="0" y="0" transform="translate(297,277.47) scale(0.93,1)" font-size="5.3" fill="#333">NK</text>
<line x1="291.3" y1="281.04" x2="293.7" y2="281.04" stroke="#222" stroke-width="0.8"/>
<text x="0" y="0" transform="translate(297,282.89) scale(0.93,1)" font-size="5.3" fill="#333">γδ T</text>
<line x1="291.3" y1="286.46" x2="293.7" y2="286.46" stroke="#222" stroke-width="0.8"/>
<text x="0" y="0" transform="translate(297,288.31) scale(0.93,1)" font-size="5.3" fill="#333">Exhausted T</text>
<line x1="291.3" y1="291.88" x2="293.7" y2="291.88" stroke="#222" stroke-width="0.8"/>
<text x="0" y="0" transform="translate(297,293.73) scale(0.93,1)" font-size="5.3" fill="#333">CD8<tspan dy="-2.6" font-size="3.6">+</tspan><tspan dy="2.6"> CTL</tspan></text>
<line x1="291.3" y1="297.30" x2="293.7" y2="297.30" stroke="#222" stroke-width="0.8"/>
<text x="0" y="0" transform="translate(297,299.15) scale(0.93,1)" font-size="5.3" fill="#333">Naive CD8<tspan dy="-2.6" font-size="3.6">+</tspan><tspan dy="2.6"> T</tspan></text>
<line x1="291.3" y1="302.72" x2="293.7" y2="302.72" stroke="#222" stroke-width="0.8"/>
<text x="0" y="0" transform="translate(297,304.57) scale(0.93,1)" font-size="5.3" fill="#333">CD4<tspan dy="-2.6" font-size="3.6">+</tspan><tspan dy="2.6"> T</tspan>eff</text>
<line x1="291.3" y1="308.14" x2="293.7" y2="308.14" stroke="#222" stroke-width="0.8"/>
<text x="0" y="0" transform="translate(297,309.99) scale(0.93,1)" font-size="5.3" fill="#333">Naive CD4<tspan dy="-2.6" font-size="3.6">+</tspan><tspan dy="2.6"> T</tspan></text>
<line x1="291.3" y1="313.56" x2="293.7" y2="313.56" stroke="#222" stroke-width="0.8"/>
<text x="0" y="0" transform="translate(297,315.41) scale(0.93,1)" font-size="5.3" fill="#333">DNT</text>
<line x1="34.40" y1="316.3" x2="34.40" y2="319.2" stroke="#222" stroke-width="0.8"/>
<text x="0" y="0" font-size="5.9" fill="#333" text-anchor="end" transform="translate(37.60,325.6) rotate(-45)">CD3D</text>
<line x1="41.63" y1="316.3" x2="41.63" y2="319.2" stroke="#222" stroke-width="0.8"/>
<text x="0" y="0" font-size="5.9" fill="#333" text-anchor="end" transform="translate(44.83,325.6) rotate(-45)">CD3E</text>
<line x1="48.86" y1="316.3" x2="48.86" y2="319.2" stroke="#222" stroke-width="0.8"/>
<text x="0" y="0" font-size="5.9" fill="#333" text-anchor="end" transform="translate(52.06,325.6) rotate(-45)">CD4</text>
<line x1="56.09" y1="316.3" x2="56.09" y2="319.2" stroke="#222" stroke-width="0.8"/>
<text x="0" y="0" font-size="5.9" fill="#333" text-anchor="end" transform="translate(59.29,325.6) rotate(-45)">IL7R</text>
<line x1="63.32" y1="316.3" x2="63.32" y2="319.2" stroke="#222" stroke-width="0.8"/>
<text x="0" y="0" font-size="5.9" fill="#333" text-anchor="end" transform="translate(66.52,325.6) rotate(-45)">CCR7</text>
<line x1="70.55" y1="316.3" x2="70.55" y2="319.2" stroke="#222" stroke-width="0.8"/>
<text x="0" y="0" font-size="5.9" fill="#333" text-anchor="end" transform="translate(73.75,325.6) rotate(-45)">CD8A</text>
<line x1="77.78" y1="316.3" x2="77.78" y2="319.2" stroke="#222" stroke-width="0.8"/>
<text x="0" y="0" font-size="5.9" fill="#333" text-anchor="end" transform="translate(80.98,325.6) rotate(-45)">CD8B</text>
<line x1="85.01" y1="316.3" x2="85.01" y2="319.2" stroke="#222" stroke-width="0.8"/>
<text x="0" y="0" font-size="5.9" fill="#333" text-anchor="end" transform="translate(88.21,325.6) rotate(-45)">NKG7</text>
<line x1="92.24" y1="316.3" x2="92.24" y2="319.2" stroke="#222" stroke-width="0.8"/>
<text x="0" y="0" font-size="5.9" fill="#333" text-anchor="end" transform="translate(95.44,325.6) rotate(-45)">GZMB</text>
<line x1="99.47" y1="316.3" x2="99.47" y2="319.2" stroke="#222" stroke-width="0.8"/>
<text x="0" y="0" font-size="5.9" fill="#333" text-anchor="end" transform="translate(102.67,325.6) rotate(-45)">TRDC</text>
<line x1="106.70" y1="316.3" x2="106.70" y2="319.2" stroke="#222" stroke-width="0.8"/>
<text x="0" y="0" font-size="5.9" fill="#333" text-anchor="end" transform="translate(109.90,325.6) rotate(-45)">TRGC2</text>
<line x1="113.93" y1="316.3" x2="113.93" y2="319.2" stroke="#222" stroke-width="0.8"/>
<text x="0" y="0" font-size="5.9" fill="#333" text-anchor="end" transform="translate(117.13,325.6) rotate(-45)">KLRB1</text>
<line x1="121.16" y1="316.3" x2="121.16" y2="319.2" stroke="#222" stroke-width="0.8"/>
<text x="0" y="0" font-size="5.9" fill="#333" text-anchor="end" transform="translate(124.36,325.6) rotate(-45)">GNLY</text>
<line x1="128.39" y1="316.3" x2="128.39" y2="319.2" stroke="#222" stroke-width="0.8"/>
<text x="0" y="0" font-size="5.9" fill="#333" text-anchor="end" transform="translate(131.59,325.6) rotate(-45)">FGFBP2</text>
<line x1="135.62" y1="316.3" x2="135.62" y2="319.2" stroke="#222" stroke-width="0.8"/>
<text x="0" y="0" font-size="5.9" fill="#333" text-anchor="end" transform="translate(138.82,325.6) rotate(-45)">MKI67</text>
<line x1="142.85" y1="316.3" x2="142.85" y2="319.2" stroke="#222" stroke-width="0.8"/>
<text x="0" y="0" font-size="5.9" fill="#333" text-anchor="end" transform="translate(146.05,325.6) rotate(-45)">CD79A</text>
<line x1="150.08" y1="316.3" x2="150.08" y2="319.2" stroke="#222" stroke-width="0.8"/>
<text x="0" y="0" font-size="5.9" fill="#333" text-anchor="end" transform="translate(153.28,325.6) rotate(-45)">MS4A1</text>
<line x1="157.31" y1="316.3" x2="157.31" y2="319.2" stroke="#222" stroke-width="0.8"/>
<text x="0" y="0" font-size="5.9" fill="#333" text-anchor="end" transform="translate(160.51,325.6) rotate(-45)">CD19</text>
<line x1="164.54" y1="316.3" x2="164.54" y2="319.2" stroke="#222" stroke-width="0.8"/>
<text x="0" y="0" font-size="5.9" fill="#333" text-anchor="end" transform="translate(167.74,325.6) rotate(-45)">TCL1A</text>
<line x1="171.77" y1="316.3" x2="171.77" y2="319.2" stroke="#222" stroke-width="0.8"/>
<text x="0" y="0" font-size="5.9" fill="#333" text-anchor="end" transform="translate(174.97,325.6) rotate(-45)">IGHD</text>
<line x1="179.00" y1="316.3" x2="179.00" y2="319.2" stroke="#222" stroke-width="0.8"/>
<text x="0" y="0" font-size="5.9" fill="#333" text-anchor="end" transform="translate(182.20,325.6) rotate(-45)">FCRL5</text>
<line x1="186.23" y1="316.3" x2="186.23" y2="319.2" stroke="#222" stroke-width="0.8"/>
<text x="0" y="0" font-size="5.9" fill="#333" text-anchor="end" transform="translate(189.43,325.6) rotate(-45)">MZB1</text>
<line x1="193.46" y1="316.3" x2="193.46" y2="319.2" stroke="#222" stroke-width="0.8"/>
<text x="0" y="0" font-size="5.9" fill="#333" text-anchor="end" transform="translate(196.66,325.6) rotate(-45)">JCHAIN</text>
<line x1="200.69" y1="316.3" x2="200.69" y2="319.2" stroke="#222" stroke-width="0.8"/>
<text x="0" y="0" font-size="5.9" fill="#333" text-anchor="end" transform="translate(203.89,325.6) rotate(-45)">IGHG1</text>
<line x1="207.92" y1="316.3" x2="207.92" y2="319.2" stroke="#222" stroke-width="0.8"/>
<text x="0" y="0" font-size="5.9" fill="#333" text-anchor="end" transform="translate(211.12,325.6) rotate(-45)">XBP1</text>
<line x1="215.15" y1="316.3" x2="215.15" y2="319.2" stroke="#222" stroke-width="0.8"/>
<text x="0" y="0" font-size="5.9" fill="#333" text-anchor="end" transform="translate(218.35,325.6) rotate(-45)">LILRA4</text>
<line x1="222.38" y1="316.3" x2="222.38" y2="319.2" stroke="#222" stroke-width="0.8"/>
<text x="0" y="0" font-size="5.9" fill="#333" text-anchor="end" transform="translate(225.58,325.6) rotate(-45)">CLEC4C</text>
<line x1="229.61" y1="316.3" x2="229.61" y2="319.2" stroke="#222" stroke-width="0.8"/>
<text x="0" y="0" font-size="5.9" fill="#333" text-anchor="end" transform="translate(232.81,325.6) rotate(-45)">CD1C</text>
<line x1="236.84" y1="316.3" x2="236.84" y2="319.2" stroke="#222" stroke-width="0.8"/>
<text x="0" y="0" font-size="5.9" fill="#333" text-anchor="end" transform="translate(240.04,325.6) rotate(-45)">FCER1A</text>
<line x1="244.07" y1="316.3" x2="244.07" y2="319.2" stroke="#222" stroke-width="0.8"/>
<text x="0" y="0" font-size="5.9" fill="#333" text-anchor="end" transform="translate(247.27,325.6) rotate(-45)">CLEC10A</text>
<line x1="251.30" y1="316.3" x2="251.30" y2="319.2" stroke="#222" stroke-width="0.8"/>
<text x="0" y="0" font-size="5.9" fill="#333" text-anchor="end" transform="translate(254.50,325.6) rotate(-45)">LYZ</text>
<line x1="258.53" y1="316.3" x2="258.53" y2="319.2" stroke="#222" stroke-width="0.8"/>
<text x="0" y="0" font-size="5.9" fill="#333" text-anchor="end" transform="translate(261.73,325.6) rotate(-45)">CD14</text>
<line x1="265.76" y1="316.3" x2="265.76" y2="319.2" stroke="#222" stroke-width="0.8"/>
<text x="0" y="0" font-size="5.9" fill="#333" text-anchor="end" transform="translate(268.96,325.6) rotate(-45)">FCGR3A</text>
<line x1="272.99" y1="316.3" x2="272.99" y2="319.2" stroke="#222" stroke-width="0.8"/>
<text x="0" y="0" font-size="5.9" fill="#333" text-anchor="end" transform="translate(276.19,325.6) rotate(-45)">CD68</text>
<line x1="280.22" y1="316.3" x2="280.22" y2="319.2" stroke="#222" stroke-width="0.8"/>
<text x="0" y="0" font-size="5.9" fill="#333" text-anchor="end" transform="translate(283.42,325.6) rotate(-45)">PPBP</text>
<line x1="287.45" y1="316.3" x2="287.45" y2="319.2" stroke="#222" stroke-width="0.8"/>
<text x="0" y="0" font-size="5.9" fill="#333" text-anchor="end" transform="translate(290.65,325.6) rotate(-45)">PF4</text>
<circle cx="48.86" cy="221.42" r="1.55" fill="#e3948a" stroke="#dc8478" stroke-width="0.5"/>
<circle cx="48.86" cy="226.84" r="1.15" fill="#db4a40"/>
<circle cx="48.86" cy="232.26" r="1.55" fill="#efbfb7" stroke="#e6b0a8" stroke-width="0.5"/>
<circle cx="48.86" cy="237.68" r="1.55" fill="#db4a40" stroke="#c8352c" stroke-width="0.5"/>
<circle cx="92.24" cy="237.68" r="2.25" fill="#db4a40" stroke="#c8352c" stroke-width="0.5"/>
<circle cx="63.32" cy="248.52" r="2.25" fill="#db4a40" stroke="#c8352c" stroke-width="0.5"/>
<circle cx="63.32" cy="253.94" r="1.55" fill="#efbfb7" stroke="#e6b0a8" stroke-width="0.5"/>
<circle cx="63.32" cy="259.36" r="2.25" fill="#db4a40" stroke="#c8352c" stroke-width="0.5"/>
<circle cx="56.09" cy="248.52" r="1.15" fill="#ddd0ce"/>
<circle cx="56.09" cy="259.36" r="1.15" fill="#ddd0ce"/>
<circle cx="34.40" cy="264.78" r="1.55" fill="#ddd0ce" stroke="#d4c4c2" stroke-width="0.5"/>
<circle cx="41.63" cy="264.78" r="1.55" fill="#ddd0ce" stroke="#d4c4c2" stroke-width="0.5"/>
<circle cx="70.55" cy="264.78" r="1.15" fill="#ddd0ce"/>
<circle cx="77.78" cy="264.78" r="1.15" fill="#efbfb7"/>
<circle cx="85.01" cy="264.78" r="1.55" fill="#efbfb7" stroke="#e6b0a8" stroke-width="0.5"/>
<circle cx="92.24" cy="264.78" r="0.7" fill="#ddd0ce"/>
<circle cx="63.32" cy="270.20" r="1.55" fill="#efbfb7" stroke="#e6b0a8" stroke-width="0.5"/>
<circle cx="85.01" cy="270.20" r="1.55" fill="#e3948a" stroke="#dc8478" stroke-width="0.5"/>
<circle cx="41.63" cy="275.62" r="1.15" fill="#efbfb7"/>
<circle cx="63.32" cy="275.62" r="1.15" fill="#efbfb7"/>
<circle cx="85.01" cy="275.62" r="2.25" fill="#db4a40" stroke="#c8352c" stroke-width="0.5"/>
<circle cx="92.24" cy="275.62" r="2.25" fill="#db4a40" stroke="#c8352c" stroke-width="0.5"/>
<circle cx="34.40" cy="281.04" r="1.55" fill="#efbfb7" stroke="#e6b0a8" stroke-width="0.5"/>
<circle cx="41.63" cy="281.04" r="1.55" fill="#e3948a" stroke="#dc8478" stroke-width="0.5"/>
<circle cx="63.32" cy="281.04" r="1.55" fill="#efbfb7" stroke="#e6b0a8" stroke-width="0.5"/>
<circle cx="70.55" cy="281.04" r="0.7" fill="#ddd0ce"/>
<circle cx="85.01" cy="281.04" r="1.55" fill="#efbfb7" stroke="#e6b0a8" stroke-width="0.5"/>
<circle cx="34.40" cy="286.46" r="1.55" fill="#efbfb7" stroke="#e6b0a8" stroke-width="0.5"/>
<circle cx="41.63" cy="286.46" r="1.55" fill="#e3948a" stroke="#dc8478" stroke-width="0.5"/>
<circle cx="70.55" cy="286.46" r="1.15" fill="#efbfb7"/>
<circle cx="77.78" cy="286.46" r="1.15" fill="#efbfb7"/>
<circle cx="34.40" cy="291.88" r="2.25" fill="#e3948a" stroke="#dc8478" stroke-width="0.5"/>
<circle cx="41.63" cy="291.88" r="2.25" fill="#e3948a" stroke="#dc8478" stroke-width="0.5"/>
<circle cx="70.55" cy="291.88" r="2.25" fill="#db4a40" stroke="#c8352c" stroke-width="0.5"/>
<circle cx="77.78" cy="291.88" r="1.55" fill="#db4a40" stroke="#c8352c" stroke-width="0.5"/>
<circle cx="85.01" cy="291.88" r="2.25" fill="#db4a40" stroke="#c8352c" stroke-width="0.5"/>
<circle cx="92.24" cy="291.88" r="1.55" fill="#e3948a" stroke="#dc8478" stroke-width="0.5"/>
<circle cx="99.47" cy="291.88" r="1.15" fill="#ddd0ce"/>
<circle cx="34.40" cy="297.30" r="2.25" fill="#e3948a" stroke="#dc8478" stroke-width="0.5"/>
<circle cx="41.63" cy="297.30" r="2.25" fill="#e3948a" stroke="#dc8478" stroke-width="0.5"/>
<circle cx="56.09" cy="297.30" r="1.55" fill="#e3948a" stroke="#dc8478" stroke-width="0.5"/>
<circle cx="70.55" cy="297.30" r="1.55" fill="#efbfb7" stroke="#e6b0a8" stroke-width="0.5"/>
<circle cx="77.78" cy="297.30" r="2.25" fill="#db4a40" stroke="#c8352c" stroke-width="0.5"/>
<circle cx="34.40" cy="302.72" r="2.25" fill="#e3948a" stroke="#dc8478" stroke-width="0.5"/>
<circle cx="41.63" cy="302.72" r="2.25" fill="#e3948a" stroke="#dc8478" stroke-width="0.5"/>
<circle cx="48.86" cy="302.72" r="1.15" fill="#e3948a"/>
<circle cx="56.09" cy="302.72" r="1.15" fill="#efbfb7"/>
<circle cx="34.40" cy="308.14" r="1.55" fill="#e3948a" stroke="#dc8478" stroke-width="0.5"/>
<circle cx="41.63" cy="308.14" r="2.25" fill="#e3948a" stroke="#dc8478" stroke-width="0.5"/>
<circle cx="48.86" cy="308.14" r="0.7" fill="#efbfb7"/>
<circle cx="56.09" cy="308.14" r="2.25" fill="#db4a40" stroke="#c8352c" stroke-width="0.5"/>
<circle cx="34.40" cy="313.56" r="1.55" fill="#e3948a" stroke="#dc8478" stroke-width="0.5"/>
<circle cx="41.63" cy="313.56" r="1.55" fill="#e3948a" stroke="#dc8478" stroke-width="0.5"/>
<circle cx="56.09" cy="313.56" r="1.55" fill="#db4a40" stroke="#c8352c" stroke-width="0.5"/>
<circle cx="70.55" cy="313.56" r="0.7" fill="#ddd0ce"/>
<circle cx="77.78" cy="313.56" r="0.7" fill="#ddd0ce"/>
<circle cx="164.54" cy="221.42" r="1.55" fill="#ddd0ce" stroke="#d4c4c2" stroke-width="0.5"/>
<circle cx="164.54" cy="226.84" r="1.15" fill="#efbfb7"/>
<circle cx="164.54" cy="232.26" r="1.55" fill="#efbfb7" stroke="#e6b0a8" stroke-width="0.5"/>
<circle cx="164.54" cy="243.10" r="1.15" fill="#efbfb7"/>
<circle cx="164.54" cy="253.94" r="2.25" fill="#e3948a" stroke="#dc8478" stroke-width="0.5"/>
<circle cx="157.31" cy="237.68" r="1.15" fill="#ddd0ce"/>
<circle cx="142.85" cy="243.10" r="0.7" fill="#efbfb7"/>
<circle cx="142.85" cy="248.52" r="2.25" fill="#db4a40" stroke="#c8352c" stroke-width="0.5"/>
<circle cx="142.85" cy="253.94" r="2.25" fill="#e3948a" stroke="#dc8478" stroke-width="0.5"/>
<circle cx="142.85" cy="259.36" r="2.25" fill="#db4a40" stroke="#c8352c" stroke-width="0.5"/>
<circle cx="150.08" cy="248.52" r="2.25" fill="#e3948a" stroke="#dc8478" stroke-width="0.5"/>
<circle cx="150.08" cy="253.94" r="2.25" fill="#db4a40" stroke="#c8352c" stroke-width="0.5"/>
<circle cx="150.08" cy="259.36" r="2.25" fill="#e3948a" stroke="#dc8478" stroke-width="0.5"/>
<circle cx="157.31" cy="248.52" r="1.55" fill="#db4a40" stroke="#c8352c" stroke-width="0.5"/>
<circle cx="157.31" cy="259.36" r="1.55" fill="#c43a36" stroke="#b02a26" stroke-width="0.5"/>
<circle cx="99.47" cy="264.78" r="1.15" fill="#efbfb7"/>
<circle cx="121.16" cy="264.78" r="0.7" fill="#efbfb7"/>
<circle cx="135.62" cy="264.78" r="2.25" fill="#db4a40" stroke="#c8352c" stroke-width="0.5"/>
<circle cx="164.54" cy="264.78" r="2.25" fill="#e3948a" stroke="#dc8478" stroke-width="0.5"/>
<circle cx="99.47" cy="270.20" r="1.55" fill="#c43a36" stroke="#b02a26" stroke-width="0.5"/>
<circle cx="121.16" cy="270.20" r="2.25" fill="#db4a40" stroke="#c8352c" stroke-width="0.5"/>
<circle cx="128.39" cy="270.20" r="2.25" fill="#db4a40" stroke="#c8352c" stroke-width="0.5"/>
<circle cx="164.54" cy="270.20" r="1.55" fill="#efbfb7" stroke="#e6b0a8" stroke-width="0.5"/>
<circle cx="121.16" cy="275.62" r="2.25" fill="#db4a40" stroke="#c8352c" stroke-width="0.5"/>
<circle cx="164.54" cy="275.62" r="1.15" fill="#efbfb7"/>
<circle cx="99.47" cy="281.04" r="1.55" fill="#c43a36" stroke="#b02a26" stroke-width="0.5"/>
<circle cx="106.70" cy="281.04" r="1.55" fill="#db4a40" stroke="#c8352c" stroke-width="0.5"/>
<circle cx="113.93" cy="281.04" r="1.55" fill="#db4a40" stroke="#c8352c" stroke-width="0.5"/>
<circle cx="99.47" cy="286.46" r="1.15" fill="#db4a40"/>
<circle cx="113.93" cy="291.88" r="0.7" fill="#ddd0ce"/>
<circle cx="121.16" cy="291.88" r="1.55" fill="#ddd0ce" stroke="#d4c4c2" stroke-width="0.5"/>
<circle cx="164.54" cy="291.88" r="1.55" fill="#efbfb7" stroke="#e6b0a8" stroke-width="0.5"/>
<circle cx="99.47" cy="302.72" r="1.55" fill="#ddd0ce" stroke="#d4c4c2" stroke-width="0.5"/>
<circle cx="164.54" cy="302.72" r="1.55" fill="#efbfb7" stroke="#e6b0a8" stroke-width="0.5"/>
<circle cx="171.77" cy="216.00" r="0.7" fill="#ddd0ce"/>
<circle cx="171.77" cy="226.84" r="0.7" fill="#efbfb7"/>
<circle cx="171.77" cy="237.68" r="0.7" fill="#efbfb7"/>
<circle cx="171.77" cy="248.52" r="0.7" fill="#efbfb7"/>
<circle cx="171.77" cy="253.94" r="2.25" fill="#db4a40" stroke="#c8352c" stroke-width="0.5"/>
<circle cx="171.77" cy="259.36" r="0.7" fill="#efbfb7"/>
<circle cx="179.00" cy="243.10" r="1.15" fill="#c43a36"/>
<circle cx="179.00" cy="248.52" r="1.55" fill="#efbfb7" stroke="#e6b0a8" stroke-width="0.5"/>
<circle cx="186.23" cy="248.52" r="2.25" fill="#db4a40" stroke="#c8352c" stroke-width="0.5"/>
<circle cx="186.23" cy="259.36" r="2.25" fill="#c43a36" stroke="#b02a26" stroke-width="0.5"/>
<circle cx="193.46" cy="243.10" r="2.25" fill="#db4a40" stroke="#c8352c" stroke-width="0.5"/>
<circle cx="193.46" cy="264.78" r="1.55" fill="#efbfb7" stroke="#e6b0a8" stroke-width="0.5"/>
<circle cx="200.69" cy="237.68" r="1.55" fill="#efbfb7" stroke="#e6b0a8" stroke-width="0.5"/>
<circle cx="200.69" cy="243.10" r="2.25" fill="#db4a40" stroke="#c8352c" stroke-width="0.5"/>
<circle cx="207.92" cy="237.68" r="1.55" fill="#efbfb7" stroke="#e6b0a8" stroke-width="0.5"/>
<circle cx="207.92" cy="243.10" r="2.25" fill="#db4a40" stroke="#c8352c" stroke-width="0.5"/>
<circle cx="215.15" cy="237.68" r="2.25" fill="#db4a40" stroke="#c8352c" stroke-width="0.5"/>
<circle cx="222.38" cy="232.26" r="2.25" fill="#db4a40" stroke="#c8352c" stroke-width="0.5"/>
<circle cx="222.38" cy="253.94" r="1.15" fill="#ddd0ce"/>
<circle cx="229.61" cy="232.26" r="2.25" fill="#db4a40" stroke="#c8352c" stroke-width="0.5"/>
<circle cx="193.46" cy="270.20" r="1.15" fill="#efbfb7"/>
<circle cx="193.46" cy="275.62" r="1.15" fill="#e3948a"/>
<circle cx="186.23" cy="286.46" r="1.15" fill="#ddd0ce"/>
<circle cx="186.23" cy="297.30" r="1.15" fill="#ddd0ce"/>
<circle cx="186.23" cy="308.14" r="1.15" fill="#ddd0ce"/>
<circle cx="171.77" cy="302.72" r="1.15" fill="#efbfb7"/>
<circle cx="258.53" cy="216.00" r="0.7" fill="#efbfb7"/>
<circle cx="280.22" cy="216.00" r="2.25" fill="#db4a40" stroke="#c8352c" stroke-width="0.5"/>
<circle cx="287.45" cy="216.00" r="2.25" fill="#db4a40" stroke="#c8352c" stroke-width="0.5"/>
<circle cx="244.07" cy="221.42" r="1.55" fill="#ddd0ce" stroke="#d4c4c2" stroke-width="0.5"/>
<circle cx="258.53" cy="221.42" r="2.25" fill="#db4a40" stroke="#c8352c" stroke-width="0.5"/>
<circle cx="265.76" cy="221.42" r="2.25" fill="#db4a40" stroke="#c8352c" stroke-width="0.5"/>
<circle cx="272.99" cy="221.42" r="2.25" fill="#db4a40" stroke="#c8352c" stroke-width="0.5"/>
<circle cx="244.07" cy="226.84" r="2.25" fill="#db4a40" stroke="#c8352c" stroke-width="0.5"/>
<circle cx="251.30" cy="226.84" r="2.25" fill="#db4a40" stroke="#c8352c" stroke-width="0.5"/>
<circle cx="258.53" cy="226.84" r="1.55" fill="#ddd0ce" stroke="#d4c4c2" stroke-width="0.5"/>
<circle cx="236.84" cy="232.26" r="2.25" fill="#db4a40" stroke="#c8352c" stroke-width="0.5"/>
<circle cx="244.07" cy="232.26" r="2.25" fill="#db4a40" stroke="#c8352c" stroke-width="0.5"/>
<circle cx="258.53" cy="232.26" r="0.7" fill="#efbfb7"/>
<circle cx="229.61" cy="237.68" r="0.7" fill="#efbfb7"/>
<circle cx="258.53" cy="237.68" r="1.55" fill="#e3948a" stroke="#dc8478" stroke-width="0.5"/>
<circle cx="265.76" cy="275.62" r="1.55" fill="#e3948a" stroke="#dc8478" stroke-width="0.5"/>
<circle cx="265.76" cy="291.88" r="1.15" fill="#ddd0ce"/>
<text x="348.6" y="195.6" font-size="10.8" font-weight="bold" fill="#111" style="stroke:#111;stroke-width:0.35px">C</text>
<line x1="387.8" y1="211.00" x2="389.7" y2="211.00" stroke="#222" stroke-width="0.8"/>
<text x="383.2" y="213.0" font-size="5.6" text-anchor="end" fill="#333">1.00</text>
<line x1="387.8" y1="238.40" x2="389.7" y2="238.40" stroke="#222" stroke-width="0.8"/>
<text x="383.2" y="240.4" font-size="5.6" text-anchor="end" fill="#333">0.75</text>
<line x1="387.8" y1="265.80" x2="389.7" y2="265.80" stroke="#222" stroke-width="0.8"/>
<text x="383.2" y="267.8" font-size="5.6" text-anchor="end" fill="#333">0.50</text>
<line x1="387.8" y1="293.20" x2="389.7" y2="293.20" stroke="#222" stroke-width="0.8"/>
<text x="383.2" y="295.2" font-size="5.6" text-anchor="end" fill="#333">0.25</text>
<line x1="387.8" y1="320.60" x2="389.7" y2="320.60" stroke="#222" stroke-width="0.8"/>
<text x="383.2" y="322.6" font-size="5.6" text-anchor="end" fill="#333">0.00</text>
<text x="0" y="0" font-size="6.6" font-weight="bold" fill="#333" text-anchor="middle" textLength="11.6" lengthAdjust="spacingAndGlyphs" transform="translate(366.4,264.9) rotate(-90)">Ratio</text>
<rect x="390.90" y="211.00" width="7.9" height="1.60" fill="#a06a4c"/>
<rect x="390.90" y="212.60" width="7.9" height="25.40" fill="#0aaec0"/>
<rect x="390.90" y="238.00" width="7.9" height="4.80" fill="#b82282"/>
<rect x="390.90" y="242.80" width="7.9" height="25.40" fill="#6daf6c"/>
<rect x="390.90" y="268.20" width="7.9" height="4.70" fill="#2b6ca6"/>
<rect x="390.90" y="272.90" width="7.9" height="5.20" fill="#ead2cc"/>
<rect x="390.90" y="278.10" width="7.9" height="2.50" fill="#d9a899"/>
<rect x="390.90" y="280.60" width="7.9" height="9.90" fill="#7fcdc3"/>
<rect x="390.90" y="290.50" width="7.9" height="11.20" fill="#2f6cc0"/>
<rect x="390.90" y="301.70" width="7.9" height="8.00" fill="#ee4030"/>
<rect x="390.90" y="309.70" width="7.9" height="8.70" fill="#14a88a"/>
<rect x="390.90" y="318.40" width="7.9" height="1.20" fill="#f2e08a"/>
<rect x="390.90" y="319.60" width="7.9" height="1.00" fill="#a09c8c"/>
<line x1="394.85" y1="320.6" x2="394.85" y2="323.6" stroke="#222" stroke-width="0.8"/>
<text x="0" y="0" font-size="6.1" fill="#333" text-anchor="end" transform="translate(397.95,330.6) rotate(-45)">HA01</text>
<rect x="399.56" y="211.00" width="7.9" height="7.50" fill="#0aaec0"/>
<rect x="399.56" y="218.50" width="7.9" height="1.00" fill="#2b6ca6"/>
<rect x="399.56" y="219.50" width="7.9" height="9.50" fill="#6daf6c"/>
<rect x="399.56" y="229.00" width="7.9" height="2.40" fill="#2b6ca6"/>
<rect x="399.56" y="231.40" width="7.9" height="3.20" fill="#ead2cc"/>
<rect x="399.56" y="234.60" width="7.9" height="3.10" fill="#a06a4c"/>
<rect x="399.56" y="237.70" width="7.9" height="8.30" fill="#7fcdc3"/>
<rect x="399.56" y="246.00" width="7.9" height="17.20" fill="#2f6cc0"/>
<rect x="399.56" y="263.20" width="7.9" height="34.70" fill="#ee4030"/>
<rect x="399.56" y="297.90" width="7.9" height="16.10" fill="#14a88a"/>
<rect x="399.56" y="314.00" width="7.9" height="4.40" fill="#f2e08a"/>
<rect x="399.56" y="318.40" width="7.9" height="2.20" fill="#a09c8c"/>
<line x1="403.51" y1="320.6" x2="403.51" y2="323.6" stroke="#222" stroke-width="0.8"/>
<text x="0" y="0" font-size="6.1" fill="#333" text-anchor="end" transform="translate(406.61,330.6) rotate(-45)">HA05</text>
<rect x="408.22" y="211.00" width="7.9" height="17.00" fill="#0aaec0"/>
<rect x="408.22" y="228.00" width="7.9" height="4.60" fill="#b82282"/>
<rect x="408.22" y="232.60" width="7.9" height="14.90" fill="#6daf6c"/>
<rect x="408.22" y="247.50" width="7.9" height="5.10" fill="#2b6ca6"/>
<rect x="408.22" y="252.60" width="7.9" height="3.40" fill="#ead2cc"/>
<rect x="408.22" y="256.00" width="7.9" height="4.70" fill="#a06a4c"/>
<rect x="408.22" y="260.70" width="7.9" height="5.00" fill="#7fcdc3"/>
<rect x="408.22" y="265.70" width="7.9" height="16.10" fill="#2f6cc0"/>
<rect x="408.22" y="281.80" width="7.9" height="16.20" fill="#ee4030"/>
<rect x="408.22" y="298.00" width="7.9" height="12.30" fill="#14a88a"/>
<rect x="408.22" y="310.30" width="7.9" height="7.50" fill="#f2e08a"/>
<rect x="408.22" y="317.80" width="7.9" height="2.80" fill="#a09c8c"/>
<line x1="412.17" y1="320.6" x2="412.17" y2="323.6" stroke="#222" stroke-width="0.8"/>
<text x="0" y="0" font-size="6.1" fill="#333" text-anchor="end" transform="translate(415.27,330.6) rotate(-45)">HA14</text>
<rect x="416.88" y="211.00" width="7.9" height="24.80" fill="#0aaec0"/>
<rect x="416.88" y="235.80" width="7.9" height="4.30" fill="#b82282"/>
<rect x="416.88" y="240.10" width="7.9" height="9.90" fill="#6daf6c"/>
<rect x="416.88" y="250.00" width="7.9" height="4.50" fill="#2b6ca6"/>
<rect x="416.88" y="254.50" width="7.9" height="4.50" fill="#ead2cc"/>
<rect x="416.88" y="259.00" width="7.9" height="5.50" fill="#a06a4c"/>
<rect x="416.88" y="264.50" width="7.9" height="7.40" fill="#7fcdc3"/>
<rect x="416.88" y="271.90" width="7.9" height="16.10" fill="#2f6cc0"/>
<rect x="416.88" y="288.00" width="7.9" height="11.20" fill="#ee4030"/>
<rect x="416.88" y="299.20" width="7.9" height="13.00" fill="#14a88a"/>
<rect x="416.88" y="312.20" width="7.9" height="5.60" fill="#f2e08a"/>
<rect x="416.88" y="317.80" width="7.9" height="2.80" fill="#a09c8c"/>
<line x1="420.83" y1="320.6" x2="420.83" y2="323.6" stroke="#222" stroke-width="0.8"/>
<text x="0" y="0" font-size="6.1" fill="#333" text-anchor="end" transform="translate(423.93,330.6) rotate(-45)">HA15</text>
<rect x="425.54" y="211.00" width="7.9" height="6.60" fill="#e8472f"/>
<rect x="425.54" y="217.60" width="7.9" height="36.50" fill="#0aaec0"/>
<rect x="425.54" y="254.10" width="7.9" height="5.40" fill="#b82282"/>
<rect x="425.54" y="259.50" width="7.9" height="10.50" fill="#6daf6c"/>
<rect x="425.54" y="270.00" width="7.9" height="9.30" fill="#2b6ca6"/>
<rect x="425.54" y="279.30" width="7.9" height="3.10" fill="#ead2cc"/>
<rect x="425.54" y="282.40" width="7.9" height="1.90" fill="#a06a4c"/>
<rect x="425.54" y="284.30" width="7.9" height="14.90" fill="#7fcdc3"/>
<rect x="425.54" y="299.20" width="7.9" height="6.20" fill="#2f6cc0"/>
<rect x="425.54" y="305.40" width="7.9" height="4.30" fill="#ee4030"/>
<rect x="425.54" y="309.70" width="7.9" height="6.80" fill="#14a88a"/>
<rect x="425.54" y="316.50" width="7.9" height="2.50" fill="#f2e08a"/>
<rect x="425.54" y="319.00" width="7.9" height="1.60" fill="#a09c8c"/>
<line x1="429.49" y1="320.6" x2="429.49" y2="323.6" stroke="#222" stroke-width="0.8"/>
<text x="0" y="0" font-size="6.1" fill="#333" text-anchor="end" transform="translate(432.59,330.6) rotate(-45)">HA33</text>
<rect x="434.20" y="211.00" width="7.9" height="2.80" fill="#e8472f"/>
<rect x="434.20" y="213.80" width="7.9" height="32.50" fill="#0aaec0"/>
<rect x="434.20" y="246.30" width="7.9" height="10.20" fill="#b82282"/>
<rect x="434.20" y="256.50" width="7.9" height="22.20" fill="#6daf6c"/>
<rect x="434.20" y="278.70" width="7.9" height="5.60" fill="#2b6ca6"/>
<rect x="434.20" y="284.30" width="7.9" height="6.80" fill="#ead2cc"/>
<rect x="434.20" y="291.10" width="7.9" height="3.70" fill="#a06a4c"/>
<rect x="434.20" y="294.80" width="7.9" height="6.20" fill="#7fcdc3"/>
<rect x="434.20" y="301.00" width="7.9" height="2.50" fill="#2f6cc0"/>
<rect x="434.20" y="303.50" width="7.9" height="2.50" fill="#ee4030"/>
<rect x="434.20" y="306.00" width="7.9" height="4.30" fill="#14a88a"/>
<rect x="434.20" y="310.30" width="7.9" height="6.80" fill="#f2e08a"/>
<rect x="434.20" y="317.10" width="7.9" height="3.50" fill="#d6747c"/>
<line x1="438.15" y1="320.6" x2="438.15" y2="323.6" stroke="#222" stroke-width="0.8"/>
<text x="0" y="0" font-size="6.1" fill="#333" text-anchor="end" transform="translate(441.25,330.6) rotate(-45)">HB25</text>
<rect x="442.86" y="211.00" width="7.9" height="25.20" fill="#0aaec0"/>
<rect x="442.86" y="236.20" width="7.9" height="7.20" fill="#b82282"/>
<rect x="442.86" y="243.40" width="7.9" height="20.30" fill="#6daf6c"/>
<rect x="442.86" y="263.70" width="7.9" height="11.90" fill="#2b6ca6"/>
<rect x="442.86" y="275.60" width="7.9" height="7.40" fill="#ead2cc"/>
<rect x="442.86" y="283.00" width="7.9" height="3.80" fill="#a06a4c"/>
<rect x="442.86" y="286.80" width="7.9" height="10.50" fill="#7fcdc3"/>
<rect x="442.86" y="297.30" width="7.9" height="9.30" fill="#2f6cc0"/>
<rect x="442.86" y="306.60" width="7.9" height="3.70" fill="#ee4030"/>
<rect x="442.86" y="310.30" width="7.9" height="6.80" fill="#14a88a"/>
<rect x="442.86" y="317.10" width="7.9" height="3.50" fill="#f2e08a"/>
<line x1="446.81" y1="320.6" x2="446.81" y2="323.6" stroke="#222" stroke-width="0.8"/>
<text x="0" y="0" font-size="6.1" fill="#333" text-anchor="end" transform="translate(449.91,330.6) rotate(-45)">HB26</text>
<rect x="451.52" y="211.00" width="7.9" height="31.20" fill="#0aaec0"/>
<rect x="451.52" y="242.20" width="7.9" height="5.90" fill="#b82282"/>
<rect x="451.52" y="248.10" width="7.9" height="12.60" fill="#6daf6c"/>
<rect x="451.52" y="260.70" width="7.9" height="4.30" fill="#2b6ca6"/>
<rect x="451.52" y="265.00" width="7.9" height="3.80" fill="#ead2cc"/>
<rect x="451.52" y="268.80" width="7.9" height="5.00" fill="#a06a4c"/>
<rect x="451.52" y="273.80" width="7.9" height="10.50" fill="#7fcdc3"/>
<rect x="451.52" y="284.30" width="7.9" height="7.40" fill="#2f6cc0"/>
<rect x="451.52" y="291.70" width="7.9" height="8.10" fill="#ee4030"/>
<rect x="451.52" y="299.80" width="7.9" height="5.60" fill="#14a88a"/>
<rect x="451.52" y="305.40" width="7.9" height="7.40" fill="#f2e08a"/>
<rect x="451.52" y="312.80" width="7.9" height="5.00" fill="#d6747c"/>
<rect x="451.52" y="317.80" width="7.9" height="2.80" fill="#a09c8c"/>
<line x1="455.47" y1="320.6" x2="455.47" y2="323.6" stroke="#222" stroke-width="0.8"/>
<text x="0" y="0" font-size="6.1" fill="#333" text-anchor="end" transform="translate(458.57,330.6) rotate(-45)">HB27</text>
<rect x="460.18" y="211.00" width="7.9" height="40.70" fill="#0aaec0"/>
<rect x="460.18" y="251.70" width="7.9" height="7.20" fill="#b82282"/>
<rect x="460.18" y="258.90" width="7.9" height="14.90" fill="#6daf6c"/>
<rect x="460.18" y="273.80" width="7.9" height="9.20" fill="#2b6ca6"/>
<rect x="460.18" y="283.00" width="7.9" height="3.20" fill="#ead2cc"/>
<rect x="460.18" y="286.20" width="7.9" height="4.90" fill="#a06a4c"/>
<rect x="460.18" y="291.10" width="7.9" height="8.70" fill="#7fcdc3"/>
<rect x="460.18" y="299.80" width="7.9" height="6.20" fill="#2f6cc0"/>
<rect x="460.18" y="306.00" width="7.9" height="1.80" fill="#ee4030"/>
<rect x="460.18" y="307.80" width="7.9" height="5.60" fill="#14a88a"/>
<rect x="460.18" y="313.40" width="7.9" height="3.70" fill="#f2e08a"/>
<rect x="460.18" y="317.10" width="7.9" height="3.50" fill="#a09c8c"/>
<line x1="464.13" y1="320.6" x2="464.13" y2="323.6" stroke="#222" stroke-width="0.8"/>
<text x="0" y="0" font-size="6.1" fill="#333" text-anchor="end" transform="translate(467.23,330.6) rotate(-45)">HB28</text>
<rect x="468.84" y="211.00" width="7.9" height="2.80" fill="#e8472f"/>
<rect x="468.84" y="213.80" width="7.9" height="26.60" fill="#0aaec0"/>
<rect x="468.84" y="240.40" width="7.9" height="9.60" fill="#b82282"/>
<rect x="468.84" y="250.00" width="7.9" height="20.70" fill="#6daf6c"/>
<rect x="468.84" y="270.70" width="7.9" height="6.20" fill="#2b6ca6"/>
<rect x="468.84" y="276.90" width="7.9" height="3.70" fill="#ead2cc"/>
<rect x="468.84" y="280.60" width="7.9" height="2.40" fill="#d9a899"/>
<rect x="468.84" y="283.00" width="7.9" height="7.50" fill="#7fcdc3"/>
<rect x="468.84" y="290.50" width="7.9" height="7.40" fill="#2f6cc0"/>
<rect x="468.84" y="297.90" width="7.9" height="8.10" fill="#ee4030"/>
<rect x="468.84" y="306.00" width="7.9" height="8.00" fill="#14a88a"/>
<rect x="468.84" y="314.00" width="7.9" height="3.80" fill="#f2e08a"/>
<rect x="468.84" y="317.80" width="7.9" height="2.80" fill="#a09c8c"/>
<line x1="472.79" y1="320.6" x2="472.79" y2="323.6" stroke="#222" stroke-width="0.8"/>
<text x="0" y="0" font-size="6.1" fill="#333" text-anchor="end" transform="translate(475.89,330.6) rotate(-45)">HB34</text>
<path d="M389.7,210.4 L389.7,320.6 L477.2,320.6" fill="none" stroke="#222" stroke-width="0.9"/>
<text x="6.7" y="361.8" font-size="11" font-weight="bold" fill="#111" style="stroke:#111;stroke-width:0.35px">D</text>
<text x="0" y="0" transform="translate(69.2,365.9) scale(0.96,1)" font-size="8.3" text-anchor="middle" fill="#222">T cell</text>
<text x="0" y="0" transform="translate(69.2,375.5) scale(1.05,1)" font-size="6" fill="#333" text-anchor="middle"><tspan font-style="italic">P</tspan> = .044</text>
<line x1="54" y1="377.2" x2="84.5" y2="377.2" stroke="#333" stroke-width="0.8"/>
<path d="M35,379.3 L35,464.7 L104.7,464.7" fill="none" stroke="#262626" stroke-width="1.25"/>
<line x1="32.3" y1="389.7" x2="35" y2="389.7" stroke="#222" stroke-width="0.9"/>
<text x="29.6" y="392.05" font-size="6.5" text-anchor="end" fill="#333">0.8</text>
<line x1="32.3" y1="416.2" x2="35" y2="416.2" stroke="#222" stroke-width="0.9"/>
<text x="29.6" y="418.55" font-size="6.5" text-anchor="end" fill="#333">0.6</text>
<line x1="32.3" y1="442.6" x2="35" y2="442.6" stroke="#222" stroke-width="0.9"/>
<text x="29.6" y="444.95" font-size="6.5" text-anchor="end" fill="#333">0.4</text>
<line x1="54" y1="464.7" x2="54" y2="467.3" stroke="#222" stroke-width="0.9"/>
<text x="54" y="476.3" font-size="6" text-anchor="middle" fill="#333">HA</text>
<line x1="85.7" y1="464.7" x2="85.7" y2="467.3" stroke="#222" stroke-width="0.9"/>
<text x="85.7" y="476.3" font-size="6" text-anchor="middle" fill="#333">HB</text>
<line x1="54.5" y1="403.3" x2="54.5" y2="426.4" stroke="#7c849e" stroke-width="0.85"/>
<rect x="42.9" y="410.9" width="23.10" height="15.50" fill="#a8aecc"/>
<line x1="42.9" y1="426.4" x2="66" y2="426.4" stroke="#3d5a98" stroke-width="1.3"/>
<circle cx="51.2" cy="410.4" r="1.15" fill="#1a2045"/>
<circle cx="59.4" cy="403.3" r="1.15" fill="#1a2045"/>
<circle cx="52.8" cy="427.8" r="1.15" fill="#1a2045"/>
<circle cx="59.4" cy="426" r="1.15" fill="#1a2045"/>
<circle cx="57.5" cy="461.3" r="1.15" fill="#1a2045"/>
<line x1="86.2" y1="384" x2="86.2" y2="406.6" stroke="#cf9494" stroke-width="0.85"/>
<rect x="74.3" y="391" width="23.50" height="11.10" fill="#eda99d"/>
<line x1="74.3" y1="402.1" x2="97.8" y2="402.1" stroke="#cc3b32" stroke-width="1.3"/>
<circle cx="79.6" cy="383.1" r="1.15" fill="#7a1822"/>
<circle cx="86.7" cy="391" r="1.15" fill="#7a1822"/>
<circle cx="85.9" cy="402.1" r="1.15" fill="#7a1822"/>
<circle cx="90.8" cy="407.6" r="1.15" fill="#7a1822"/>
<text x="119.5" y="361.8" font-size="11" font-weight="bold" fill="#111" style="stroke:#111;stroke-width:0.35px">E</text>
<text x="0" y="0" transform="translate(171.8,365.9) scale(0.96,1)" font-size="8.3" text-anchor="middle" fill="#222">B cell</text>
<text x="0" y="0" transform="translate(172.1,375.5) scale(1.05,1)" font-size="6" fill="#333" text-anchor="middle"><tspan font-style="italic">P</tspan> = .061</text>
<line x1="156" y1="377.2" x2="188.2" y2="377.2" stroke="#333" stroke-width="0.8"/>
<path d="M137.3,379.3 L137.3,464.7 L201.4,464.7" fill="none" stroke="#262626" stroke-width="1.25"/>
<line x1="134.60000000000002" y1="390.1" x2="137.3" y2="390.1" stroke="#222" stroke-width="0.9"/>
<text x="131.6" y="392.45" font-size="6.5" text-anchor="end" fill="#333">0.6</text>
<line x1="134.60000000000002" y1="417.7" x2="137.3" y2="417.7" stroke="#222" stroke-width="0.9"/>
<text x="131.6" y="420.05" font-size="6.5" text-anchor="end" fill="#333">0.4</text>
<line x1="134.60000000000002" y1="445.3" x2="137.3" y2="445.3" stroke="#222" stroke-width="0.9"/>
<text x="131.6" y="447.65" font-size="6.5" text-anchor="end" fill="#333">0.2</text>
<line x1="156.5" y1="464.7" x2="156.5" y2="467.3" stroke="#222" stroke-width="0.9"/>
<text x="156.5" y="476.3" font-size="6" text-anchor="middle" fill="#333">HA</text>
<line x1="189" y1="464.7" x2="189" y2="467.3" stroke="#222" stroke-width="0.9"/>
<text x="189" y="476.3" font-size="6" text-anchor="middle" fill="#333">HB</text>
<line x1="156.5" y1="382.4" x2="156.5" y2="449.9" stroke="#7c849e" stroke-width="0.85"/>
<rect x="144.5" y="412.5" width="23.50" height="25.00" fill="#a8aecc"/>
<line x1="144.5" y1="417.4" x2="168" y2="417.4" stroke="#3d5a98" stroke-width="1.3"/>
<circle cx="160.3" cy="382.9" r="1.15" fill="#1a2045"/>
<circle cx="155.1" cy="412.8" r="1.15" fill="#1a2045"/>
<circle cx="161.1" cy="417.7" r="1.15" fill="#1a2045"/>
<circle cx="153.7" cy="437.5" r="1.15" fill="#1a2045"/>
<circle cx="161.7" cy="449.9" r="1.15" fill="#1a2045"/>
<line x1="189" y1="442.1" x2="189" y2="460" stroke="#cf9494" stroke-width="0.85"/>
<rect x="176.7" y="442.1" width="23.00" height="12.10" fill="#eda99d"/>
<line x1="176.7" y1="445.6" x2="199.7" y2="445.6" stroke="#cc3b32" stroke-width="1.3"/>
<circle cx="187.6" cy="442.1" r="1.15" fill="#7a1822"/>
<circle cx="193.3" cy="442.1" r="1.15" fill="#7a1822"/>
<circle cx="189" cy="445.6" r="1.15" fill="#7a1822"/>
<circle cx="189" cy="454.8" r="1.15" fill="#7a1822"/>
<circle cx="183.3" cy="461" r="1.15" fill="#7a1822"/>
<text x="217.7" y="361.8" font-size="11" font-weight="bold" fill="#111" style="stroke:#111;stroke-width:0.35px">F</text>
<text x="0" y="0" transform="translate(273.4,365.9) scale(0.96,1)" font-size="8.3" text-anchor="middle" fill="#222">NK cell</text>
<text x="0" y="0" transform="translate(272.8,375.5) scale(1.05,1)" font-size="6" fill="#333" text-anchor="middle"><tspan font-style="italic">P</tspan> = .76</text>
<line x1="256.7" y1="377.2" x2="288.9" y2="377.2" stroke="#333" stroke-width="0.8"/>
<path d="M237.5,379.3 L237.5,464.7 L307.8,464.7" fill="none" stroke="#262626" stroke-width="1.25"/>
<line x1="234.8" y1="392.2" x2="237.5" y2="392.2" stroke="#222" stroke-width="0.9"/>
<text x="232.3" y="394.55" font-size="6.5" text-anchor="end" fill="#333">0.12</text>
<line x1="234.8" y1="411.3" x2="237.5" y2="411.3" stroke="#222" stroke-width="0.9"/>
<text x="232.3" y="413.65" font-size="6.5" text-anchor="end" fill="#333">0.10</text>
<line x1="234.8" y1="430.4" x2="237.5" y2="430.4" stroke="#222" stroke-width="0.9"/>
<text x="232.3" y="432.75" font-size="6.5" text-anchor="end" fill="#333">0.08</text>
<line x1="234.8" y1="449.2" x2="237.5" y2="449.2" stroke="#222" stroke-width="0.9"/>
<text x="232.3" y="451.55" font-size="6.5" text-anchor="end" fill="#333">0.06</text>
<line x1="256.7" y1="464.7" x2="256.7" y2="467.3" stroke="#222" stroke-width="0.9"/>
<text x="256.7" y="476.3" font-size="6" text-anchor="middle" fill="#333">HA</text>
<line x1="288.9" y1="464.7" x2="288.9" y2="467.3" stroke="#222" stroke-width="0.9"/>
<text x="288.9" y="476.3" font-size="6" text-anchor="middle" fill="#333">HB</text>
<line x1="256.7" y1="382.9" x2="256.7" y2="461.3" stroke="#7c849e" stroke-width="0.85"/>
<rect x="245.2" y="411" width="23.60" height="30.50" fill="#a8aecc"/>
<line x1="245.2" y1="432" x2="268.8" y2="432" stroke="#3d5a98" stroke-width="1.3"/>
<circle cx="262.4" cy="383.2" r="1.15" fill="#1a2045"/>
<circle cx="253.8" cy="409.9" r="1.15" fill="#1a2045"/>
<circle cx="260.4" cy="432" r="1.15" fill="#1a2045"/>
<circle cx="261.6" cy="441.5" r="1.15" fill="#1a2045"/>
<circle cx="255.8" cy="461" r="1.15" fill="#1a2045"/>
<line x1="288.9" y1="405.3" x2="288.9" y2="443.5" stroke="#cf9494" stroke-width="0.85"/>
<rect x="277.4" y="422.5" width="22.90" height="21.00" fill="#eda99d"/>
<line x1="277.4" y1="435.8" x2="300.3" y2="435.8" stroke="#cc3b32" stroke-width="1.3"/>
<circle cx="294" cy="405.9" r="1.15" fill="#7a1822"/>
<circle cx="289.1" cy="422.5" r="1.15" fill="#7a1822"/>
<circle cx="289.1" cy="435.8" r="1.15" fill="#7a1822"/>
<circle cx="283.1" cy="444.7" r="1.15" fill="#7a1822"/>
<circle cx="288.3" cy="443.5" r="1.15" fill="#7a1822"/>
<text x="313.6" y="361.8" font-size="11" font-weight="bold" fill="#111" style="stroke:#111;stroke-width:0.35px">G</text>
<text x="0" y="0" transform="translate(373.9,365.9) scale(0.96,1)" font-size="8.3" text-anchor="middle" fill="#222">Plasma cell</text>
<text x="0" y="0" transform="translate(374.6,375.5) scale(1.05,1)" font-size="6" fill="#333" text-anchor="middle"><tspan font-style="italic">P</tspan> = .81</text>
<line x1="358.1" y1="377.2" x2="391.2" y2="377.2" stroke="#333" stroke-width="0.8"/>
<path d="M338.6,379.3 L338.6,464.7 L408.4,464.7" fill="none" stroke="#262626" stroke-width="1.25"/>
<line x1="335.90000000000003" y1="393.8" x2="338.6" y2="393.8" stroke="#222" stroke-width="0.9"/>
<text x="333.1" y="396.15" font-size="6.5" text-anchor="end" fill="#333">0.004</text>
<line x1="335.90000000000003" y1="411.7" x2="338.6" y2="411.7" stroke="#222" stroke-width="0.9"/>
<text x="333.1" y="414.05" font-size="6.5" text-anchor="end" fill="#333">0.003</text>
<line x1="335.90000000000003" y1="429.7" x2="338.6" y2="429.7" stroke="#222" stroke-width="0.9"/>
<text x="333.1" y="432.05" font-size="6.5" text-anchor="end" fill="#333">0.002</text>
<line x1="335.90000000000003" y1="447.4" x2="338.6" y2="447.4" stroke="#222" stroke-width="0.9"/>
<text x="333.1" y="449.75" font-size="6.5" text-anchor="end" fill="#333">0.001</text>
<line x1="358.1" y1="464.7" x2="358.1" y2="467.3" stroke="#222" stroke-width="0.9"/>
<text x="358.1" y="476.3" font-size="6" text-anchor="middle" fill="#333">HA</text>
<line x1="388.3" y1="464.7" x2="388.3" y2="467.3" stroke="#222" stroke-width="0.9"/>
<text x="388.3" y="476.3" font-size="6" text-anchor="middle" fill="#333">HB</text>
<line x1="358.1" y1="430.3" x2="358.1" y2="459.9" stroke="#7c849e" stroke-width="0.85"/>
<rect x="346.6" y="430.3" width="23.00" height="26.10" fill="#a8aecc"/>
<line x1="346.6" y1="450.7" x2="369.6" y2="450.7" stroke="#3d5a98" stroke-width="1.3"/>
<circle cx="361.6" cy="382.9" r="1.15" fill="#1a2045"/>
<circle cx="363.3" cy="430" r="1.15" fill="#1a2045"/>
<circle cx="356.7" cy="450.4" r="1.15" fill="#1a2045"/>
<circle cx="355.3" cy="456.4" r="1.15" fill="#1a2045"/>
<circle cx="363.9" cy="461.3" r="1.15" fill="#1a2045"/>
<line x1="388.3" y1="437.8" x2="388.3" y2="447" stroke="#cf9494" stroke-width="0.85"/>
<rect x="378.2" y="437.8" width="23.00" height="6.90" fill="#eda99d"/>
<line x1="378.2" y1="443.5" x2="401.2" y2="443.5" stroke="#cc3b32" stroke-width="1.3"/>
<circle cx="384" cy="437.8" r="1.15" fill="#7a1822"/>
<circle cx="389.1" cy="436.9" r="1.15" fill="#7a1822"/>
<circle cx="394.9" cy="434.3" r="1.15" fill="#7a1822"/>
<circle cx="388.3" cy="443.5" r="1.15" fill="#7a1822"/>
<circle cx="389.7" cy="447" r="1.15" fill="#7a1822"/>
<text x="413.6" y="361.8" font-size="11" font-weight="bold" fill="#111" style="stroke:#111;stroke-width:0.35px">H</text>
<text x="0" y="0" transform="translate(479.2,365.9) scale(0.96,1)" font-size="8.3" text-anchor="middle" fill="#222">Proliferative cell</text>
<text x="0" y="0" transform="translate(479.1,375.5) scale(1.05,1)" font-size="6" fill="#333" text-anchor="middle"><tspan font-style="italic">P</tspan> = .2</text>
<line x1="462.5" y1="377.2" x2="495.6" y2="377.2" stroke="#333" stroke-width="0.8"/>
<path d="M443.3,379.3 L443.3,464.7 L512.8,464.7" fill="none" stroke="#262626" stroke-width="1.25"/>
<line x1="440.6" y1="385.3" x2="443.3" y2="385.3" stroke="#222" stroke-width="0.9"/>
<text x="437.5" y="387.65" font-size="6.5" text-anchor="end" fill="#333">0.0125</text>
<line x1="440.6" y1="402.5" x2="443.3" y2="402.5" stroke="#222" stroke-width="0.9"/>
<text x="437.5" y="404.85" font-size="6.5" text-anchor="end" fill="#333">0.0100</text>
<line x1="440.6" y1="419.8" x2="443.3" y2="419.8" stroke="#222" stroke-width="0.9"/>
<text x="437.5" y="422.15" font-size="6.5" text-anchor="end" fill="#333">0.0075</text>
<line x1="440.6" y1="437" x2="443.3" y2="437" stroke="#222" stroke-width="0.9"/>
<text x="437.5" y="439.35" font-size="6.5" text-anchor="end" fill="#333">0.0050</text>
<line x1="440.6" y1="454.3" x2="443.3" y2="454.3" stroke="#222" stroke-width="0.9"/>
<text x="437.5" y="456.65" font-size="6.5" text-anchor="end" fill="#333">0.0025</text>
<line x1="462.5" y1="464.7" x2="462.5" y2="467.3" stroke="#222" stroke-width="0.9"/>
<text x="462.5" y="476.3" font-size="6" text-anchor="middle" fill="#333">HA</text>
<line x1="494.7" y1="464.7" x2="494.7" y2="467.3" stroke="#222" stroke-width="0.9"/>
<text x="494.7" y="476.3" font-size="6" text-anchor="middle" fill="#333">HB</text>
<line x1="462.5" y1="449.1" x2="462.5" y2="461.4" stroke="#7c849e" stroke-width="0.85"/>
<rect x="451" y="449.1" width="23.00" height="7.20" fill="#a8aecc"/>
<line x1="451" y1="453.4" x2="474" y2="453.4" stroke="#3d5a98" stroke-width="1.3"/>
<circle cx="466.8" cy="447.1" r="1.15" fill="#1a2045"/>
<circle cx="466" cy="448.5" r="1.15" fill="#1a2045"/>
<circle cx="468.3" cy="453.7" r="1.15" fill="#1a2045"/>
<circle cx="461.6" cy="455.7" r="1.15" fill="#1a2045"/>
<circle cx="459.6" cy="460.9" r="1.15" fill="#1a2045"/>
<line x1="494.7" y1="435" x2="494.7" y2="452.2" stroke="#cf9494" stroke-width="0.85"/>
<rect x="482.6" y="435" width="23.00" height="17.20" fill="#eda99d"/>
<line x1="482.6" y1="441.9" x2="505.6" y2="441.9" stroke="#cc3b32" stroke-width="1.3"/>
<circle cx="494.7" cy="383" r="1.15" fill="#7a1822"/>
<circle cx="495" cy="434.7" r="1.15" fill="#7a1822"/>
<circle cx="493.6" cy="441.6" r="1.15" fill="#7a1822"/>
<circle cx="489" cy="452.8" r="1.15" fill="#7a1822"/>
<circle cx="499" cy="454" r="1.15" fill="#7a1822"/>
<text x="0" y="0" font-size="6.4" fill="#333" text-anchor="middle" textLength="69" lengthAdjust="spacingAndGlyphs" transform="translate(15.2,422.2) rotate(-90)">Ratio of lymphocyte subsets</text>
</svg>
</body></html>
